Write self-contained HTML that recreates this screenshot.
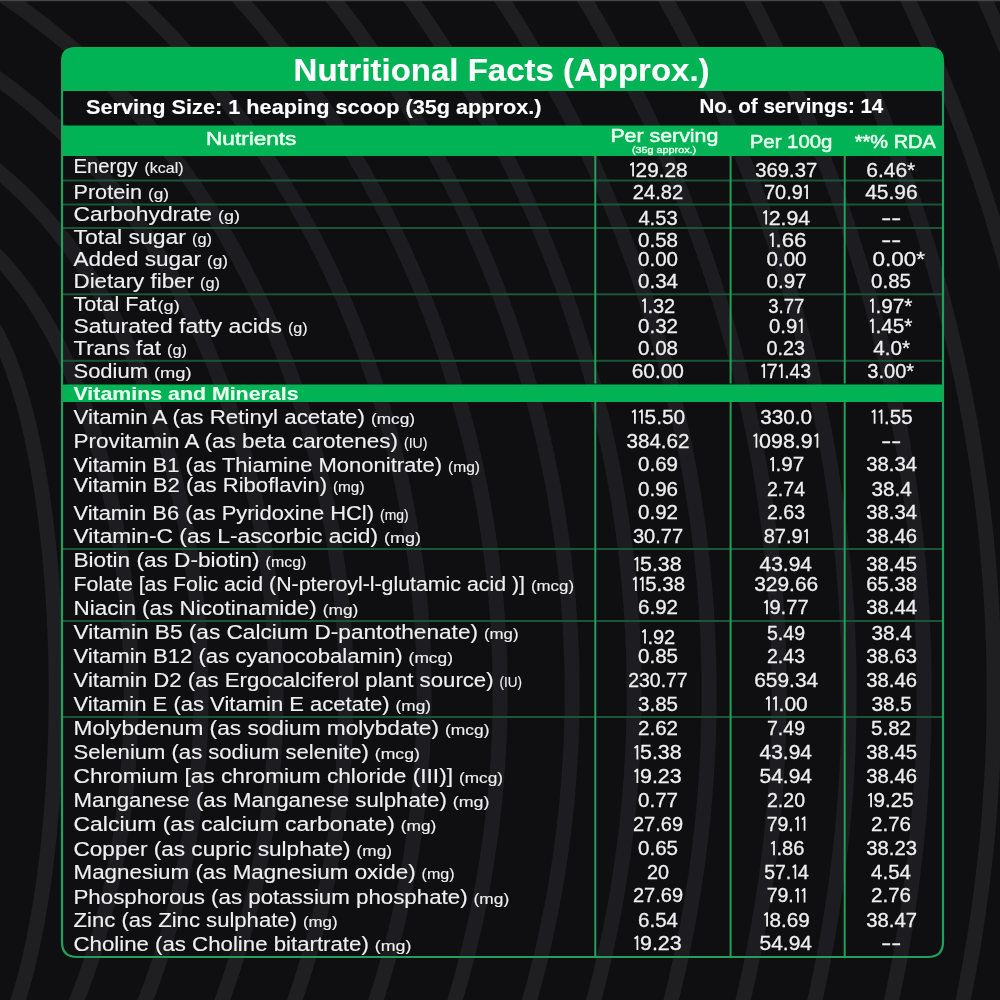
<!DOCTYPE html>
<html><head><meta charset="utf-8"><style>
html,body{margin:0;padding:0;background:#0f0f11;width:1000px;height:1000px;overflow:hidden}
svg{display:block;font-family:"Liberation Sans", sans-serif;will-change:transform}
</style></head><body>
<svg width="1000" height="1000" viewBox="0 0 1000 1000">
<defs>
<clipPath id="tbl"><path d="M61,61 Q61,47 75,47 L930,47 Q944,47 944,61 L944,942 Q944,958 928,958 L77,958 Q61,958 61,942 Z"/></clipPath>
</defs>
<rect width="1000" height="1000" fill="#0f0f11"/>
<g id="stripes" fill="none" stroke="#1f1f22" stroke-width="15">

<path d="M-68.5,296.0 L-61.9,304.0 L-57.6,312.0 L-54.2,320.0 L-51.3,328.0 L-48.8,336.0 L-46.6,344.0 L-44.5,352.0 L-42.6,360.0 L-40.9,368.0 L-39.3,376.0 L-37.8,384.0 L-36.4,392.0 L-35.0,400.0 L-33.8,408.0 L-32.6,416.0 L-31.5,424.0 L-30.4,432.0 L-29.4,440.0 L-28.4,448.0 L-27.5,456.0 L-26.7,464.0 L-25.9,472.0 L-25.1,480.0 L-24.3,488.0 L-23.7,496.0 L-23.0,504.0 L-22.4,512.0 L-21.8,520.0 L-21.2,528.0 L-20.7,536.0 L-20.2,544.0 L-19.7,552.0 L-19.3,560.0 L-18.9,568.0 L-18.5,576.0 L-18.1,584.0 L-17.8,592.0 L-17.5,600.0 L-17.2,608.0 L-17.0,616.0 L-16.8,624.0 L-16.6,632.0 L-16.4,640.0 L-16.3,648.0 L-16.1,656.0 L-16.0,664.0 L-16.0,672.0 L-15.9,680.0 L-15.9,688.0 L-15.9,696.0 L-15.9,704.0 L-15.9,712.0 L-16.0,720.0 L-16.1,728.0 L-16.2,736.0 L-16.4,744.0 L-16.5,752.0 L-16.7,760.0 L-16.9,768.0 L-17.2,776.0 L-17.4,784.0 L-17.7,792.0 L-18.1,800.0 L-18.4,808.0 L-18.8,816.0 L-19.2,824.0 L-19.6,832.0 L-20.1,840.0 L-20.6,848.0 L-21.1,856.0 L-21.6,864.0 L-22.2,872.0 L-22.8,880.0 L-23.5,888.0 L-24.2,896.0 L-24.9,904.0 L-25.7,912.0 L-26.5,920.0 L-27.3,928.0 L-28.2,936.0 L-29.2,944.0 L-30.1,952.0 L-31.2,960.0 L-32.3,968.0 L-33.5,976.0 L-34.7,984.0 L-36.0,992.0 L-37.4,1000.0 L-38.9,1008.0 L-40.5,1016.0 L-42.2,1024.0 L-44.0,1032.0 L-46.0,1040.0"/>
<path d="M-36.4,296.0 L-24.7,304.0 L-17.2,312.0 L-11.2,320.0 L-6.2,328.0 L-1.7,336.0 L2.2,344.0 L5.8,352.0 L9.1,360.0 L12.2,368.0 L15.0,376.0 L17.7,384.0 L20.1,392.0 L22.5,400.0 L24.7,408.0 L26.8,416.0 L28.7,424.0 L30.6,432.0 L32.4,440.0 L34.0,448.0 L35.6,456.0 L37.1,464.0 L38.6,472.0 L39.9,480.0 L41.2,488.0 L42.5,496.0 L43.6,504.0 L44.7,512.0 L45.8,520.0 L46.7,528.0 L47.7,536.0 L48.5,544.0 L49.4,552.0 L50.1,560.0 L50.9,568.0 L51.5,576.0 L52.1,584.0 L52.7,592.0 L53.2,600.0 L53.7,608.0 L54.2,616.0 L54.5,624.0 L54.9,632.0 L55.2,640.0 L55.5,648.0 L55.7,656.0 L55.9,664.0 L56.0,672.0 L56.1,680.0 L56.1,688.0 L56.1,696.0 L56.1,704.0 L56.0,712.0 L55.9,720.0 L55.7,728.0 L55.5,736.0 L55.3,744.0 L55.0,752.0 L54.6,760.0 L54.3,768.0 L53.8,776.0 L53.4,784.0 L52.9,792.0 L52.3,800.0 L51.7,808.0 L51.0,816.0 L50.3,824.0 L49.6,832.0 L48.8,840.0 L47.9,848.0 L47.0,856.0 L46.0,864.0 L45.0,872.0 L43.9,880.0 L42.8,888.0 L41.5,896.0 L40.3,904.0 L38.9,912.0 L37.5,920.0 L36.0,928.0 L34.4,936.0 L32.8,944.0 L31.0,952.0 L29.2,960.0 L27.3,968.0 L25.2,976.0 L23.0,984.0 L20.7,992.0 L18.3,1000.0 L15.7,1008.0 L12.9,1016.0 L9.9,1024.0 L6.7,1032.0 L3.1,1040.0"/>
<path d="M-113.6,200.0 L-73.4,208.0 L-55.2,216.0 L-41.4,224.0 L-29.9,232.0 L-19.9,240.0 L-11.0,248.0 L-2.9,256.0 L4.6,264.0 L11.5,272.0 L17.9,280.0 L23.9,288.0 L29.6,296.0 L34.9,304.0 L40.0,312.0 L44.8,320.0 L49.3,328.0 L53.7,336.0 L57.9,344.0 L61.8,352.0 L65.6,360.0 L69.2,368.0 L72.7,376.0 L76.0,384.0 L79.2,392.0 L82.3,400.0 L85.2,408.0 L88.0,416.0 L90.7,424.0 L93.3,432.0 L95.8,440.0 L98.1,448.0 L100.4,456.0 L102.6,464.0 L104.7,472.0 L106.6,480.0 L108.5,488.0 L110.3,496.0 L112.1,504.0 L113.7,512.0 L115.3,520.0 L116.7,528.0 L118.1,536.0 L119.5,544.0 L120.7,552.0 L121.9,560.0 L123.0,568.0 L124.0,576.0 L125.0,584.0 L125.8,592.0 L126.7,600.0 L127.4,608.0 L128.1,616.0 L128.7,624.0 L129.2,632.0 L129.7,640.0 L130.1,648.0 L130.4,656.0 L130.7,664.0 L130.9,672.0 L131.0,680.0 L131.1,688.0 L131.1,696.0 L131.1,704.0 L130.9,712.0 L130.8,720.0 L130.5,728.0 L130.2,736.0 L129.8,744.0 L129.3,752.0 L128.8,760.0 L128.2,768.0 L127.6,776.0 L126.8,784.0 L126.0,792.0 L125.2,800.0 L124.2,808.0 L123.2,816.0 L122.2,824.0 L121.0,832.0 L119.8,840.0 L118.5,848.0 L117.1,856.0 L115.6,864.0 L114.1,872.0 L112.5,880.0 L110.8,888.0 L109.0,896.0 L107.1,904.0 L105.2,912.0 L103.1,920.0 L101.0,928.0 L98.7,936.0 L96.4,944.0 L93.9,952.0 L91.4,960.0 L88.7,968.0 L85.9,976.0 L83.0,984.0 L80.0,992.0 L76.9,1000.0 L73.6,1008.0 L70.1,1016.0 L66.5,1024.0 L62.8,1032.0 L58.9,1040.0"/>
<path d="M-145.9,104.0 L-110.1,112.0 L-87.0,120.0 L-68.8,128.0 L-53.3,136.0 L-39.6,144.0 L-27.4,152.0 L-16.1,160.0 L-5.8,168.0 L3.9,176.0 L12.9,184.0 L21.4,192.0 L29.5,200.0 L37.1,208.0 L44.3,216.0 L51.2,224.0 L57.8,232.0 L64.1,240.0 L70.2,248.0 L76.0,256.0 L81.6,264.0 L86.9,272.0 L92.1,280.0 L97.1,288.0 L101.9,296.0 L106.5,304.0 L110.9,312.0 L115.2,320.0 L119.4,328.0 L123.3,336.0 L127.2,344.0 L130.9,352.0 L134.5,360.0 L138.0,368.0 L141.4,376.0 L144.6,384.0 L147.7,392.0 L150.7,400.0 L153.6,408.0 L156.4,416.0 L159.1,424.0 L161.7,432.0 L164.3,440.0 L166.7,448.0 L169.0,456.0 L171.2,464.0 L173.3,472.0 L175.4,480.0 L177.3,488.0 L179.2,496.0 L181.0,504.0 L182.7,512.0 L184.3,520.0 L185.9,528.0 L187.4,536.0 L188.8,544.0 L190.1,552.0 L191.3,560.0 L192.5,568.0 L193.5,576.0 L194.6,584.0 L195.5,592.0 L196.4,600.0 L197.1,608.0 L197.9,616.0 L198.5,624.0 L199.1,632.0 L199.6,640.0 L200.0,648.0 L200.4,656.0 L200.7,664.0 L200.9,672.0 L201.0,680.0 L201.1,688.0 L201.1,696.0 L201.1,704.0 L200.9,712.0 L200.7,720.0 L200.5,728.0 L200.1,736.0 L199.7,744.0 L199.2,752.0 L198.7,760.0 L198.0,768.0 L197.3,776.0 L196.6,784.0 L195.7,792.0 L194.8,800.0 L193.8,808.0 L192.7,816.0 L191.6,824.0 L190.4,832.0 L189.1,840.0 L187.7,848.0 L186.3,856.0 L184.7,864.0 L183.1,872.0 L181.4,880.0 L179.7,888.0 L177.8,896.0 L175.9,904.0 L173.9,912.0 L171.7,920.0 L169.5,928.0 L167.2,936.0 L164.9,944.0 L162.4,952.0 L159.8,960.0 L157.1,968.0 L154.4,976.0 L151.5,984.0 L148.5,992.0 L145.4,1000.0 L142.2,1008.0 L138.9,1016.0 L135.4,1024.0 L131.8,1032.0 L128.2,1040.0"/>
<path d="M-192.3,0.0 L-152.6,8.0 L-125.1,16.0 L-102.7,24.0 L-83.5,32.0 L-66.5,40.0 L-51.1,48.0 L-37.0,56.0 L-23.9,64.0 L-11.6,72.0 L-0.1,80.0 L10.7,88.0 L21.0,96.0 L30.8,104.0 L40.1,112.0 L49.0,120.0 L57.6,128.0 L65.8,136.0 L73.7,144.0 L81.3,152.0 L88.6,160.0 L95.6,168.0 L102.4,176.0 L109.0,184.0 L115.4,192.0 L121.5,200.0 L127.5,208.0 L133.3,216.0 L138.9,224.0 L144.3,232.0 L149.5,240.0 L154.6,248.0 L159.6,256.0 L164.4,264.0 L169.0,272.0 L173.6,280.0 L177.9,288.0 L182.2,296.0 L186.3,304.0 L190.3,312.0 L194.2,320.0 L198.0,328.0 L201.7,336.0 L205.2,344.0 L208.7,352.0 L212.0,360.0 L215.3,368.0 L218.4,376.0 L221.5,384.0 L224.4,392.0 L227.3,400.0 L230.0,408.0 L232.7,416.0 L235.3,424.0 L237.7,432.0 L240.1,440.0 L242.5,448.0 L244.7,456.0 L246.8,464.0 L248.9,472.0 L250.9,480.0 L252.8,488.0 L254.6,496.0 L256.4,504.0 L258.0,512.0 L259.6,520.0 L261.1,528.0 L262.6,536.0 L263.9,544.0 L265.2,552.0 L266.4,560.0 L267.6,568.0 L268.6,576.0 L269.6,584.0 L270.6,592.0 L271.4,600.0 L272.2,608.0 L272.9,616.0 L273.5,624.0 L274.1,632.0 L274.6,640.0 L275.0,648.0 L275.4,656.0 L275.7,664.0 L275.9,672.0 L276.0,680.0 L276.1,688.0 L276.1,696.0 L276.1,704.0 L275.9,712.0 L275.7,720.0 L275.5,728.0 L275.1,736.0 L274.7,744.0 L274.2,752.0 L273.7,760.0 L273.1,768.0 L272.4,776.0 L271.6,784.0 L270.8,792.0 L269.9,800.0 L268.9,808.0 L267.8,816.0 L266.7,824.0 L265.5,832.0 L264.3,840.0 L262.9,848.0 L261.5,856.0 L260.0,864.0 L258.4,872.0 L256.8,880.0 L255.1,888.0 L253.3,896.0 L251.4,904.0 L249.4,912.0 L247.4,920.0 L245.2,928.0 L243.0,936.0 L240.7,944.0 L238.4,952.0 L235.9,960.0 L233.3,968.0 L230.7,976.0 L228.0,984.0 L225.1,992.0 L222.2,1000.0 L219.2,1008.0 L216.1,1016.0 L212.8,1024.0 L209.5,1032.0 L206.1,1040.0"/>
<path d="M-58.0,-40.0 L-42.8,-32.0 L-28.6,-24.0 L-15.2,-16.0 L-2.5,-8.0 L9.6,0.0 L21.1,8.0 L32.1,16.0 L42.6,24.0 L52.8,32.0 L62.5,40.0 L71.9,48.0 L80.9,56.0 L89.6,64.0 L98.1,72.0 L106.2,80.0 L114.2,88.0 L121.8,96.0 L129.3,104.0 L136.5,112.0 L143.5,120.0 L150.3,128.0 L156.9,136.0 L163.3,144.0 L169.6,152.0 L175.7,160.0 L181.6,168.0 L187.4,176.0 L193.0,184.0 L198.4,192.0 L203.8,200.0 L208.9,208.0 L214.0,216.0 L218.9,224.0 L223.7,232.0 L228.4,240.0 L232.9,248.0 L237.3,256.0 L241.7,264.0 L245.9,272.0 L250.0,280.0 L254.0,288.0 L257.8,296.0 L261.6,304.0 L265.3,312.0 L268.9,320.0 L272.4,328.0 L275.8,336.0 L279.0,344.0 L282.3,352.0 L285.4,360.0 L288.4,368.0 L291.3,376.0 L294.2,384.0 L296.9,392.0 L299.6,400.0 L302.2,408.0 L304.7,416.0 L307.1,424.0 L309.5,432.0 L311.8,440.0 L314.0,448.0 L316.1,456.0 L318.1,464.0 L320.1,472.0 L322.0,480.0 L323.8,488.0 L325.5,496.0 L327.2,504.0 L328.8,512.0 L330.3,520.0 L331.7,528.0 L333.1,536.0 L334.4,544.0 L335.7,552.0 L336.8,560.0 L337.9,568.0 L338.9,576.0 L339.9,584.0 L340.8,592.0 L341.6,600.0 L342.3,608.0 L343.0,616.0 L343.6,624.0 L344.2,632.0 L344.7,640.0 L345.1,648.0 L345.4,656.0 L345.7,664.0 L345.9,672.0 L346.0,680.0 L346.1,688.0 L346.1,696.0 L346.1,704.0 L345.9,712.0 L345.7,720.0 L345.5,728.0 L345.2,736.0 L344.8,744.0 L344.3,752.0 L343.8,760.0 L343.2,768.0 L342.5,776.0 L341.8,784.0 L341.0,792.0 L340.1,800.0 L339.2,808.0 L338.2,816.0 L337.1,824.0 L335.9,832.0 L334.7,840.0 L333.4,848.0 L332.1,856.0 L330.7,864.0 L329.2,872.0 L327.6,880.0 L325.9,888.0 L324.2,896.0 L322.4,904.0 L320.6,912.0 L318.6,920.0 L316.6,928.0 L314.5,936.0 L312.3,944.0 L310.1,952.0 L307.7,960.0 L305.3,968.0 L302.8,976.0 L300.3,984.0 L297.6,992.0 L294.9,1000.0 L292.0,1008.0 L289.1,1016.0 L286.1,1024.0 L283.0,1032.0 L279.9,1040.0"/>
<path d="M89.2,-40.0 L98.9,-32.0 L108.3,-24.0 L117.5,-16.0 L126.3,-8.0 L135.0,0.0 L143.4,8.0 L151.6,16.0 L159.5,24.0 L167.3,32.0 L174.8,40.0 L182.2,48.0 L189.4,56.0 L196.4,64.0 L203.2,72.0 L209.9,80.0 L216.4,88.0 L222.8,96.0 L229.0,104.0 L235.0,112.0 L241.0,120.0 L246.8,128.0 L252.4,136.0 L258.0,144.0 L263.4,152.0 L268.6,160.0 L273.8,168.0 L278.8,176.0 L283.8,184.0 L288.6,192.0 L293.3,200.0 L297.9,208.0 L302.4,216.0 L306.8,224.0 L311.1,232.0 L315.3,240.0 L319.4,248.0 L323.4,256.0 L327.3,264.0 L331.1,272.0 L334.8,280.0 L338.4,288.0 L342.0,296.0 L345.4,304.0 L348.8,312.0 L352.1,320.0 L355.3,328.0 L358.4,336.0 L361.4,344.0 L364.4,352.0 L367.3,360.0 L370.0,368.0 L372.8,376.0 L375.4,384.0 L378.0,392.0 L380.5,400.0 L382.9,408.0 L385.2,416.0 L387.5,424.0 L389.7,432.0 L391.8,440.0 L393.9,448.0 L395.8,456.0 L397.7,464.0 L399.6,472.0 L401.4,480.0 L403.1,488.0 L404.7,496.0 L406.3,504.0 L407.7,512.0 L409.2,520.0 L410.5,528.0 L411.8,536.0 L413.1,544.0 L414.2,552.0 L415.3,560.0 L416.4,568.0 L417.3,576.0 L418.2,584.0 L419.1,592.0 L419.8,600.0 L420.5,608.0 L421.2,616.0 L421.8,624.0 L422.3,632.0 L422.7,640.0 L423.1,648.0 L423.5,656.0 L423.7,664.0 L423.9,672.0 L424.0,680.0 L424.1,688.0 L424.1,696.0 L424.1,704.0 L424.0,712.0 L423.8,720.0 L423.5,728.0 L423.2,736.0 L422.8,744.0 L422.4,752.0 L421.9,760.0 L421.3,768.0 L420.7,776.0 L420.0,784.0 L419.3,792.0 L418.4,800.0 L417.6,808.0 L416.6,816.0 L415.6,824.0 L414.5,832.0 L413.4,840.0 L412.1,848.0 L410.9,856.0 L409.5,864.0 L408.1,872.0 L406.6,880.0 L405.1,888.0 L403.5,896.0 L401.8,904.0 L400.0,912.0 L398.2,920.0 L396.3,928.0 L394.4,936.0 L392.3,944.0 L390.2,952.0 L388.0,960.0 L385.8,968.0 L383.5,976.0 L381.1,984.0 L378.6,992.0 L376.1,1000.0 L373.4,1008.0 L370.7,1016.0 L368.0,1024.0 L365.1,1032.0 L362.2,1040.0"/>
<path d="M203.3,-40.0 L211.1,-32.0 L218.8,-24.0 L226.3,-16.0 L233.6,-8.0 L240.8,0.0 L247.8,8.0 L254.7,16.0 L261.4,24.0 L268.0,32.0 L274.4,40.0 L280.8,48.0 L286.9,56.0 L293.0,64.0 L298.9,72.0 L304.7,80.0 L310.4,88.0 L316.0,96.0 L321.5,104.0 L326.8,112.0 L332.1,120.0 L337.2,128.0 L342.2,136.0 L347.2,144.0 L352.0,152.0 L356.7,160.0 L361.4,168.0 L365.9,176.0 L370.4,184.0 L374.7,192.0 L379.0,200.0 L383.1,208.0 L387.2,216.0 L391.2,224.0 L395.1,232.0 L399.0,240.0 L402.7,248.0 L406.4,256.0 L409.9,264.0 L413.4,272.0 L416.9,280.0 L420.2,288.0 L423.5,296.0 L426.6,304.0 L429.8,312.0 L432.8,320.0 L435.8,328.0 L438.6,336.0 L441.5,344.0 L444.2,352.0 L446.9,360.0 L449.5,368.0 L452.0,376.0 L454.5,384.0 L456.8,392.0 L459.2,400.0 L461.4,408.0 L463.6,416.0 L465.7,424.0 L467.8,432.0 L469.8,440.0 L471.7,448.0 L473.5,456.0 L475.3,464.0 L477.0,472.0 L478.7,480.0 L480.3,488.0 L481.8,496.0 L483.3,504.0 L484.7,512.0 L486.0,520.0 L487.3,528.0 L488.5,536.0 L489.7,544.0 L490.8,552.0 L491.8,560.0 L492.8,568.0 L493.7,576.0 L494.6,584.0 L495.4,592.0 L496.1,600.0 L496.7,608.0 L497.4,616.0 L497.9,624.0 L498.4,632.0 L498.8,640.0 L499.2,648.0 L499.5,656.0 L499.7,664.0 L499.9,672.0 L500.1,680.0 L500.1,688.0 L500.1,696.0 L500.1,704.0 L500.0,712.0 L499.8,720.0 L499.6,728.0 L499.3,736.0 L498.9,744.0 L498.5,752.0 L498.0,760.0 L497.5,768.0 L496.9,776.0 L496.3,784.0 L495.5,792.0 L494.8,800.0 L493.9,808.0 L493.0,816.0 L492.1,824.0 L491.1,832.0 L490.0,840.0 L488.8,848.0 L487.6,856.0 L486.4,864.0 L485.0,872.0 L483.7,880.0 L482.2,888.0 L480.7,896.0 L479.1,904.0 L477.5,912.0 L475.8,920.0 L474.0,928.0 L472.1,936.0 L470.2,944.0 L468.3,952.0 L466.2,960.0 L464.1,968.0 L462.0,976.0 L459.7,984.0 L457.4,992.0 L455.1,1000.0 L452.6,1008.0 L450.1,1016.0 L447.5,1024.0 L444.9,1032.0 L442.1,1040.0"/>
<path d="M301.5,-40.0 L308.4,-32.0 L315.0,-24.0 L321.6,-16.0 L328.0,-8.0 L334.3,0.0 L340.5,8.0 L346.6,16.0 L352.6,24.0 L358.4,32.0 L364.2,40.0 L369.8,48.0 L375.3,56.0 L380.8,64.0 L386.1,72.0 L391.3,80.0 L396.5,88.0 L401.5,96.0 L406.4,104.0 L411.3,112.0 L416.1,120.0 L420.7,128.0 L425.3,136.0 L429.8,144.0 L434.2,152.0 L438.6,160.0 L442.8,168.0 L447.0,176.0 L451.1,184.0 L455.1,192.0 L459.0,200.0 L462.8,208.0 L466.6,216.0 L470.3,224.0 L473.9,232.0 L477.4,240.0 L480.9,248.0 L484.3,256.0 L487.6,264.0 L490.9,272.0 L494.0,280.0 L497.1,288.0 L500.2,296.0 L503.1,304.0 L506.0,312.0 L508.9,320.0 L511.6,328.0 L514.3,336.0 L517.0,344.0 L519.5,352.0 L522.0,360.0 L524.5,368.0 L526.8,376.0 L529.1,384.0 L531.4,392.0 L533.5,400.0 L535.7,408.0 L537.7,416.0 L539.7,424.0 L541.6,432.0 L543.5,440.0 L545.3,448.0 L547.0,456.0 L548.7,464.0 L550.3,472.0 L551.9,480.0 L553.4,488.0 L554.9,496.0 L556.2,504.0 L557.6,512.0 L558.8,520.0 L560.0,528.0 L561.2,536.0 L562.3,544.0 L563.3,552.0 L564.3,560.0 L565.2,568.0 L566.1,576.0 L566.9,584.0 L567.6,592.0 L568.3,600.0 L568.9,608.0 L569.5,616.0 L570.0,624.0 L570.5,632.0 L570.9,640.0 L571.2,648.0 L571.5,656.0 L571.8,664.0 L571.9,672.0 L572.1,680.0 L572.1,688.0 L572.1,696.0 L572.1,704.0 L572.0,712.0 L571.8,720.0 L571.6,728.0 L571.3,736.0 L571.0,744.0 L570.6,752.0 L570.1,760.0 L569.6,768.0 L569.1,776.0 L568.5,784.0 L567.8,792.0 L567.1,800.0 L566.3,808.0 L565.4,816.0 L564.5,824.0 L563.6,832.0 L562.5,840.0 L561.5,848.0 L560.3,856.0 L559.1,864.0 L557.9,872.0 L556.6,880.0 L555.2,888.0 L553.8,896.0 L552.3,904.0 L550.7,912.0 L549.1,920.0 L547.5,928.0 L545.7,936.0 L544.0,944.0 L542.1,952.0 L540.2,960.0 L538.2,968.0 L536.2,976.0 L534.1,984.0 L531.9,992.0 L529.7,1000.0 L527.4,1008.0 L525.1,1016.0 L522.6,1024.0 L520.2,1032.0 L517.6,1040.0"/>
<path d="M381.8,-40.0 L388.0,-32.0 L394.1,-24.0 L400.0,-16.0 L405.9,-8.0 L411.7,0.0 L417.3,8.0 L422.9,16.0 L428.4,24.0 L433.7,32.0 L439.0,40.0 L444.2,48.0 L449.3,56.0 L454.3,64.0 L459.2,72.0 L464.1,80.0 L468.8,88.0 L473.5,96.0 L478.1,104.0 L482.6,112.0 L487.0,120.0 L491.4,128.0 L495.7,136.0 L499.9,144.0 L504.0,152.0 L508.0,160.0 L512.0,168.0 L515.9,176.0 L519.7,184.0 L523.5,192.0 L527.1,200.0 L530.7,208.0 L534.3,216.0 L537.7,224.0 L541.1,232.0 L544.5,240.0 L547.7,248.0 L550.9,256.0 L554.0,264.0 L557.1,272.0 L560.1,280.0 L563.0,288.0 L565.9,296.0 L568.7,304.0 L571.4,312.0 L574.1,320.0 L576.7,328.0 L579.2,336.0 L581.7,344.0 L584.2,352.0 L586.5,360.0 L588.8,368.0 L591.1,376.0 L593.3,384.0 L595.4,392.0 L597.4,400.0 L599.4,408.0 L601.4,416.0 L603.3,424.0 L605.1,432.0 L606.9,440.0 L608.6,448.0 L610.3,456.0 L611.9,464.0 L613.4,472.0 L614.9,480.0 L616.3,488.0 L617.7,496.0 L619.0,504.0 L620.3,512.0 L621.5,520.0 L622.6,528.0 L623.7,536.0 L624.7,544.0 L625.7,552.0 L626.7,560.0 L627.5,568.0 L628.4,576.0 L629.1,584.0 L629.8,592.0 L630.5,600.0 L631.1,608.0 L631.6,616.0 L632.1,624.0 L632.6,632.0 L632.9,640.0 L633.3,648.0 L633.6,656.0 L633.8,664.0 L633.9,672.0 L634.1,680.0 L634.1,688.0 L634.1,696.0 L634.1,704.0 L634.0,712.0 L633.8,720.0 L633.6,728.0 L633.4,736.0 L633.0,744.0 L632.7,752.0 L632.2,760.0 L631.8,768.0 L631.2,776.0 L630.6,784.0 L630.0,792.0 L629.3,800.0 L628.6,808.0 L627.7,816.0 L626.9,824.0 L626.0,832.0 L625.0,840.0 L624.0,848.0 L622.9,856.0 L621.8,864.0 L620.6,872.0 L619.3,880.0 L618.0,888.0 L616.7,896.0 L615.2,904.0 L613.8,912.0 L612.2,920.0 L610.7,928.0 L609.0,936.0 L607.3,944.0 L605.6,952.0 L603.7,960.0 L601.9,968.0 L599.9,976.0 L598.0,984.0 L595.9,992.0 L593.8,1000.0 L591.6,1008.0 L589.4,1016.0 L587.1,1024.0 L584.8,1032.0 L582.3,1040.0"/>
<path d="M475.3,-40.0 L480.9,-32.0 L486.4,-24.0 L491.8,-16.0 L497.2,-8.0 L502.4,0.0 L507.6,8.0 L512.6,16.0 L517.6,24.0 L522.6,32.0 L527.4,40.0 L532.2,48.0 L536.8,56.0 L541.4,64.0 L546.0,72.0 L550.4,80.0 L554.8,88.0 L559.1,96.0 L563.3,104.0 L567.5,112.0 L571.6,120.0 L575.6,128.0 L579.6,136.0 L583.4,144.0 L587.3,152.0 L591.0,160.0 L594.7,168.0 L598.3,176.0 L601.9,184.0 L605.3,192.0 L608.8,200.0 L612.1,208.0 L615.4,216.0 L618.6,224.0 L621.8,232.0 L624.9,240.0 L627.9,248.0 L630.9,256.0 L633.8,264.0 L636.7,272.0 L639.5,280.0 L642.2,288.0 L644.9,296.0 L647.6,304.0 L650.1,312.0 L652.6,320.0 L655.1,328.0 L657.5,336.0 L659.8,344.0 L662.1,352.0 L664.3,360.0 L666.4,368.0 L668.6,376.0 L670.6,384.0 L672.6,392.0 L674.5,400.0 L676.4,408.0 L678.3,416.0 L680.0,424.0 L681.8,432.0 L683.4,440.0 L685.0,448.0 L686.6,456.0 L688.1,464.0 L689.6,472.0 L691.0,480.0 L692.3,488.0 L693.6,496.0 L694.8,504.0 L696.0,512.0 L697.2,520.0 L698.3,528.0 L699.3,536.0 L700.3,544.0 L701.2,552.0 L702.1,560.0 L702.9,568.0 L703.7,576.0 L704.4,584.0 L705.1,592.0 L705.7,600.0 L706.3,608.0 L706.8,616.0 L707.2,624.0 L707.6,632.0 L708.0,640.0 L708.3,648.0 L708.6,656.0 L708.8,664.0 L709.0,672.0 L709.1,680.0 L709.1,688.0 L709.1,696.0 L709.1,704.0 L709.0,712.0 L708.8,720.0 L708.6,728.0 L708.4,736.0 L708.1,744.0 L707.7,752.0 L707.3,760.0 L706.9,768.0 L706.4,776.0 L705.8,784.0 L705.2,792.0 L704.6,800.0 L703.9,808.0 L703.1,816.0 L702.3,824.0 L701.4,832.0 L700.5,840.0 L699.5,848.0 L698.5,856.0 L697.4,864.0 L696.3,872.0 L695.1,880.0 L693.9,888.0 L692.6,896.0 L691.3,904.0 L689.9,912.0 L688.5,920.0 L687.0,928.0 L685.4,936.0 L683.8,944.0 L682.2,952.0 L680.5,960.0 L678.7,968.0 L676.9,976.0 L675.0,984.0 L673.1,992.0 L671.1,1000.0 L669.1,1008.0 L667.0,1016.0 L664.8,1024.0 L662.6,1032.0 L660.4,1040.0"/>
<path d="M560.0,-40.0 L565.2,-32.0 L570.3,-24.0 L575.3,-16.0 L580.2,-8.0 L585.0,0.0 L589.8,8.0 L594.5,16.0 L599.2,24.0 L603.7,32.0 L608.2,40.0 L612.6,48.0 L617.0,56.0 L621.3,64.0 L625.5,72.0 L629.7,80.0 L633.7,88.0 L637.8,96.0 L641.7,104.0 L645.6,112.0 L649.4,120.0 L653.2,128.0 L656.9,136.0 L660.5,144.0 L664.1,152.0 L667.6,160.0 L671.1,168.0 L674.5,176.0 L677.8,184.0 L681.1,192.0 L684.3,200.0 L687.4,208.0 L690.5,216.0 L693.6,224.0 L696.5,232.0 L699.5,240.0 L702.3,248.0 L705.1,256.0 L707.9,264.0 L710.6,272.0 L713.2,280.0 L715.8,288.0 L718.3,296.0 L720.8,304.0 L723.2,312.0 L725.6,320.0 L727.9,328.0 L730.2,336.0 L732.4,344.0 L734.5,352.0 L736.6,360.0 L738.7,368.0 L740.7,376.0 L742.6,384.0 L744.5,392.0 L746.3,400.0 L748.1,408.0 L749.8,416.0 L751.5,424.0 L753.2,432.0 L754.7,440.0 L756.3,448.0 L757.8,456.0 L759.2,464.0 L760.6,472.0 L761.9,480.0 L763.2,488.0 L764.4,496.0 L765.6,504.0 L766.7,512.0 L767.8,520.0 L768.8,528.0 L769.8,536.0 L770.7,544.0 L771.6,552.0 L772.4,560.0 L773.2,568.0 L773.9,576.0 L774.6,584.0 L775.3,592.0 L775.9,600.0 L776.4,608.0 L776.9,616.0 L777.3,624.0 L777.7,632.0 L778.1,640.0 L778.4,648.0 L778.6,656.0 L778.8,664.0 L779.0,672.0 L779.1,680.0 L779.1,688.0 L779.1,696.0 L779.1,704.0 L779.0,712.0 L778.9,720.0 L778.7,728.0 L778.4,736.0 L778.1,744.0 L777.8,752.0 L777.4,760.0 L777.0,768.0 L776.5,776.0 L776.0,784.0 L775.4,792.0 L774.8,800.0 L774.1,808.0 L773.4,816.0 L772.6,824.0 L771.8,832.0 L770.9,840.0 L770.0,848.0 L769.1,856.0 L768.0,864.0 L767.0,872.0 L765.9,880.0 L764.7,888.0 L763.5,896.0 L762.2,904.0 L760.9,912.0 L759.5,920.0 L758.1,928.0 L756.6,936.0 L755.1,944.0 L753.6,952.0 L751.9,960.0 L750.3,968.0 L748.6,976.0 L746.8,984.0 L745.0,992.0 L743.1,1000.0 L741.2,1008.0 L739.2,1016.0 L737.1,1024.0 L735.1,1032.0 L732.9,1040.0"/>
<path d="M642.8,-40.0 L647.6,-32.0 L652.3,-24.0 L657.0,-16.0 L661.6,-8.0 L666.1,0.0 L670.6,8.0 L675.0,16.0 L679.3,24.0 L683.6,32.0 L687.8,40.0 L691.9,48.0 L696.0,56.0 L700.0,64.0 L704.0,72.0 L707.9,80.0 L711.7,88.0 L715.5,96.0 L719.2,104.0 L722.8,112.0 L726.4,120.0 L730.0,128.0 L733.4,136.0 L736.9,144.0 L740.2,152.0 L743.5,160.0 L746.8,168.0 L750.0,176.0 L753.1,184.0 L756.2,192.0 L759.2,200.0 L762.2,208.0 L765.1,216.0 L768.0,224.0 L770.8,232.0 L773.6,240.0 L776.3,248.0 L778.9,256.0 L781.5,264.0 L784.1,272.0 L786.6,280.0 L789.0,288.0 L791.4,296.0 L793.8,304.0 L796.1,312.0 L798.3,320.0 L800.5,328.0 L802.6,336.0 L804.7,344.0 L806.8,352.0 L808.7,360.0 L810.7,368.0 L812.6,376.0 L814.4,384.0 L816.2,392.0 L818.0,400.0 L819.6,408.0 L821.3,416.0 L822.9,424.0 L824.4,432.0 L825.9,440.0 L827.4,448.0 L828.8,456.0 L830.2,464.0 L831.5,472.0 L832.7,480.0 L833.9,488.0 L835.1,496.0 L836.2,504.0 L837.3,512.0 L838.3,520.0 L839.3,528.0 L840.2,536.0 L841.1,544.0 L842.0,552.0 L842.8,560.0 L843.5,568.0 L844.2,576.0 L844.9,584.0 L845.5,592.0 L846.0,600.0 L846.5,608.0 L847.0,616.0 L847.4,624.0 L847.8,632.0 L848.1,640.0 L848.4,648.0 L848.6,656.0 L848.8,664.0 L849.0,672.0 L849.1,680.0 L849.1,688.0 L849.1,696.0 L849.1,704.0 L849.0,712.0 L848.9,720.0 L848.7,728.0 L848.5,736.0 L848.2,744.0 L847.9,752.0 L847.5,760.0 L847.1,768.0 L846.7,776.0 L846.1,784.0 L845.6,792.0 L845.0,800.0 L844.4,808.0 L843.7,816.0 L842.9,824.0 L842.2,832.0 L841.3,840.0 L840.5,848.0 L839.5,856.0 L838.6,864.0 L837.6,872.0 L836.5,880.0 L835.4,888.0 L834.2,896.0 L833.0,904.0 L831.8,912.0 L830.5,920.0 L829.1,928.0 L827.8,936.0 L826.3,944.0 L824.8,952.0 L823.3,960.0 L821.7,968.0 L820.1,976.0 L818.4,984.0 L816.7,992.0 L814.9,1000.0 L813.0,1008.0 L811.2,1016.0 L809.2,1024.0 L807.3,1032.0 L805.2,1040.0"/>
<path d="M729.9,-40.0 L734.3,-32.0 L738.7,-24.0 L743.1,-16.0 L747.4,-8.0 L751.6,0.0 L755.8,8.0 L759.9,16.0 L763.9,24.0 L767.9,32.0 L771.9,40.0 L775.7,48.0 L779.6,56.0 L783.3,64.0 L787.0,72.0 L790.7,80.0 L794.3,88.0 L797.8,96.0 L801.3,104.0 L804.7,112.0 L808.1,120.0 L811.4,128.0 L814.7,136.0 L817.9,144.0 L821.1,152.0 L824.2,160.0 L827.3,168.0 L830.3,176.0 L833.3,184.0 L836.2,192.0 L839.0,200.0 L841.8,208.0 L844.6,216.0 L847.3,224.0 L849.9,232.0 L852.5,240.0 L855.1,248.0 L857.6,256.0 L860.1,264.0 L862.5,272.0 L864.8,280.0 L867.2,288.0 L869.4,296.0 L871.6,304.0 L873.8,312.0 L875.9,320.0 L878.0,328.0 L880.0,336.0 L882.0,344.0 L883.9,352.0 L885.8,360.0 L887.7,368.0 L889.4,376.0 L891.2,384.0 L892.9,392.0 L894.5,400.0 L896.1,408.0 L897.7,416.0 L899.2,424.0 L900.7,432.0 L902.1,440.0 L903.5,448.0 L904.8,456.0 L906.1,464.0 L907.4,472.0 L908.6,480.0 L909.7,488.0 L910.8,496.0 L911.9,504.0 L912.9,512.0 L913.9,520.0 L914.8,528.0 L915.7,536.0 L916.5,544.0 L917.3,552.0 L918.1,560.0 L918.8,568.0 L919.4,576.0 L920.1,584.0 L920.6,592.0 L921.2,600.0 L921.7,608.0 L922.1,616.0 L922.5,624.0 L922.9,632.0 L923.2,640.0 L923.4,648.0 L923.7,656.0 L923.8,664.0 L924.0,672.0 L924.1,680.0 L924.1,688.0 L924.1,696.0 L924.1,704.0 L924.0,712.0 L923.9,720.0 L923.7,728.0 L923.5,736.0 L923.2,744.0 L922.9,752.0 L922.6,760.0 L922.2,768.0 L921.8,776.0 L921.3,784.0 L920.8,792.0 L920.2,800.0 L919.6,808.0 L919.0,816.0 L918.3,824.0 L917.5,832.0 L916.7,840.0 L915.9,848.0 L915.0,856.0 L914.1,864.0 L913.1,872.0 L912.1,880.0 L911.1,888.0 L910.0,896.0 L908.8,904.0 L907.7,912.0 L906.4,920.0 L905.2,928.0 L903.8,936.0 L902.5,944.0 L901.1,952.0 L899.6,960.0 L898.1,968.0 L896.5,976.0 L894.9,984.0 L893.3,992.0 L891.6,1000.0 L889.9,1008.0 L888.1,1016.0 L886.3,1024.0 L884.4,1032.0 L882.5,1040.0"/>
<path d="M809.8,-40.0 L814.0,-32.0 L818.2,-24.0 L822.3,-16.0 L826.3,-8.0 L830.3,0.0 L834.2,8.0 L838.1,16.0 L841.9,24.0 L845.7,32.0 L849.4,40.0 L853.1,48.0 L856.7,56.0 L860.3,64.0 L863.8,72.0 L867.2,80.0 L870.6,88.0 L874.0,96.0 L877.3,104.0 L880.5,112.0 L883.7,120.0 L886.9,128.0 L890.0,136.0 L893.0,144.0 L896.1,152.0 L899.0,160.0 L901.9,168.0 L904.8,176.0 L907.6,184.0 L910.3,192.0 L913.1,200.0 L915.7,208.0 L918.3,216.0 L920.9,224.0 L923.4,232.0 L925.9,240.0 L928.3,248.0 L930.7,256.0 L933.1,264.0 L935.4,272.0 L937.6,280.0 L939.8,288.0 L942.0,296.0 L944.1,304.0 L946.1,312.0 L948.2,320.0 L950.1,328.0 L952.1,336.0 L953.9,344.0 L955.8,352.0 L957.6,360.0 L959.3,368.0 L961.0,376.0 L962.7,384.0 L964.3,392.0 L965.9,400.0 L967.4,408.0 L968.9,416.0 L970.4,424.0 L971.8,432.0 L973.1,440.0 L974.4,448.0 L975.7,456.0 L976.9,464.0 L978.1,472.0 L979.3,480.0 L980.4,488.0 L981.4,496.0 L982.4,504.0 L983.4,512.0 L984.3,520.0 L985.2,528.0 L986.1,536.0 L986.9,544.0 L987.6,552.0 L988.3,560.0 L989.0,568.0 L989.7,576.0 L990.2,584.0 L990.8,592.0 L991.3,600.0 L991.8,608.0 L992.2,616.0 L992.6,624.0 L992.9,632.0 L993.2,640.0 L993.5,648.0 L993.7,656.0 L993.9,664.0 L994.0,672.0 L994.1,680.0 L994.1,688.0 L994.1,696.0 L994.1,704.0 L994.0,712.0 L993.9,720.0 L993.7,728.0 L993.5,736.0 L993.3,744.0 L993.0,752.0 L992.7,760.0 L992.3,768.0 L991.9,776.0 L991.4,784.0 L990.9,792.0 L990.4,800.0 L989.8,808.0 L989.2,816.0 L988.5,824.0 L987.8,832.0 L987.1,840.0 L986.3,848.0 L985.4,856.0 L984.6,864.0 L983.6,872.0 L982.7,880.0 L981.7,888.0 L980.6,896.0 L979.5,904.0 L978.4,912.0 L977.2,920.0 L976.0,928.0 L974.8,936.0 L973.4,944.0 L972.1,952.0 L970.7,960.0 L969.3,968.0 L967.8,976.0 L966.3,984.0 L964.7,992.0 L963.1,1000.0 L961.5,1008.0 L959.8,1016.0 L958.0,1024.0 L956.2,1032.0 L954.4,1040.0"/>
<path d="M888.8,-40.0 L892.7,-32.0 L896.7,-24.0 L900.5,-16.0 L904.4,-8.0 L908.1,0.0 L911.9,8.0 L915.5,16.0 L919.2,24.0 L922.7,32.0 L926.3,40.0 L929.7,48.0 L933.2,56.0 L936.5,64.0 L939.9,72.0 L943.2,80.0 L946.4,88.0 L949.6,96.0 L952.7,104.0 L955.8,112.0 L958.8,120.0 L961.8,128.0 L964.8,136.0 L967.7,144.0 L970.6,152.0 L973.4,160.0 L976.1,168.0 L978.8,176.0 L981.5,184.0 L984.2,192.0 L986.7,200.0 L989.3,208.0 L991.8,216.0 L994.2,224.0 L996.6,232.0 L999.0,240.0 L1001.3,248.0 L1003.6,256.0 L1005.8,264.0 L1008.0,272.0 L1010.1,280.0 L1012.2,288.0 L1014.3,296.0 L1016.3,304.0 L1018.3,312.0 L1020.2,320.0 L1022.1,328.0 L1023.9,336.0 L1025.7,344.0 L1027.5,352.0 L1029.2,360.0 L1030.9,368.0 L1032.5,376.0 L1034.1,384.0 L1035.6,392.0 L1037.1,400.0 L1038.6,408.0 L1040.0,416.0 L1041.4,424.0 L1042.7,432.0 L1044.0,440.0 L1045.3,448.0 L1046.5,456.0 L1047.7,464.0 L1048.8,472.0 L1049.9,480.0 L1051.0,488.0 L1052.0,496.0 L1052.9,504.0 L1053.9,512.0 L1054.8,520.0 L1055.6,528.0 L1056.4,536.0 L1057.2,544.0 L1057.9,552.0 L1058.6,560.0 L1059.2,568.0 L1059.8,576.0 L1060.4,584.0 L1060.9,592.0 L1061.4,600.0 L1061.9,608.0 L1062.3,616.0 L1062.6,624.0 L1063.0,632.0 L1063.3,640.0 L1063.5,648.0 L1063.7,656.0 L1063.9,664.0 L1064.0,672.0 L1064.1,680.0 L1064.1,688.0 L1064.1,696.0 L1064.1,704.0 L1064.0,712.0 L1063.9,720.0 L1063.7,728.0 L1063.6,736.0 L1063.3,744.0 L1063.0,752.0 L1062.7,760.0 L1062.4,768.0 L1062.0,776.0 L1061.5,784.0 L1061.1,792.0 L1060.6,800.0 L1060.0,808.0 L1059.4,816.0 L1058.8,824.0 L1058.1,832.0 L1057.4,840.0 L1056.6,848.0 L1055.8,856.0 L1055.0,864.0 L1054.1,872.0 L1053.2,880.0 L1052.2,888.0 L1051.2,896.0 L1050.2,904.0 L1049.1,912.0 L1048.0,920.0 L1046.8,928.0 L1045.6,936.0 L1044.4,944.0 L1043.1,952.0 L1041.7,960.0 L1040.4,968.0 L1039.0,976.0 L1037.5,984.0 L1036.0,992.0 L1034.5,1000.0 L1032.9,1008.0 L1031.3,1016.0 L1029.6,1024.0 L1027.9,1032.0 L1026.2,1040.0"/>
<path d="M966.8,-40.0 L970.6,-32.0 L974.3,-24.0 L978.0,-16.0 L981.7,-8.0 L985.2,0.0 L988.8,8.0 L992.3,16.0 L995.7,24.0 L999.1,32.0 L1002.5,40.0 L1005.8,48.0 L1009.0,56.0 L1012.3,64.0 L1015.4,72.0 L1018.6,80.0 L1021.6,88.0 L1024.7,96.0 L1027.7,104.0 L1030.6,112.0 L1033.5,120.0 L1036.4,128.0 L1039.2,136.0 L1041.9,144.0 L1044.7,152.0 L1047.3,160.0 L1050.0,168.0 L1052.6,176.0 L1055.1,184.0 L1057.6,192.0 L1060.1,200.0 L1062.5,208.0 L1064.9,216.0 L1067.2,224.0 L1069.5,232.0 L1071.8,240.0 L1074.0,248.0 L1076.2,256.0 L1078.3,264.0 L1080.4,272.0 L1082.4,280.0 L1084.5,288.0 L1086.4,296.0 L1088.3,304.0 L1090.2,312.0 L1092.1,320.0 L1093.9,328.0 L1095.6,336.0 L1097.4,344.0 L1099.0,352.0 L1100.7,360.0 L1102.3,368.0 L1103.8,376.0 L1105.4,384.0 L1106.8,392.0 L1108.3,400.0 L1109.7,408.0 L1111.0,416.0 L1112.4,424.0 L1113.6,432.0 L1114.9,440.0 L1116.1,448.0 L1117.2,456.0 L1118.4,464.0 L1119.5,472.0 L1120.5,480.0 L1121.5,488.0 L1122.5,496.0 L1123.4,504.0 L1124.3,512.0 L1125.2,520.0 L1126.0,528.0 L1126.7,536.0 L1127.5,544.0 L1128.2,552.0 L1128.8,560.0 L1129.4,568.0 L1130.0,576.0 L1130.6,584.0 L1131.1,592.0 L1131.5,600.0 L1132.0,608.0 L1132.4,616.0 L1132.7,624.0 L1133.0,632.0 L1133.3,640.0 L1133.5,648.0 L1133.7,656.0 L1133.9,664.0 L1134.0,672.0 L1134.1,680.0 L1134.1,688.0 L1134.1,696.0 L1134.1,704.0 L1134.0,712.0 L1133.9,720.0 L1133.8,728.0 L1133.6,736.0 L1133.4,744.0 L1133.1,752.0 L1132.8,760.0 L1132.4,768.0 L1132.1,776.0 L1131.6,784.0 L1131.2,792.0 L1130.7,800.0 L1130.2,808.0 L1129.6,816.0 L1129.0,824.0 L1128.3,832.0 L1127.7,840.0 L1126.9,848.0 L1126.2,856.0 L1125.4,864.0 L1124.5,872.0 L1123.6,880.0 L1122.7,888.0 L1121.8,896.0 L1120.8,904.0 L1119.7,912.0 L1118.6,920.0 L1117.5,928.0 L1116.4,936.0 L1115.2,944.0 L1114.0,952.0 L1112.7,960.0 L1111.4,968.0 L1110.0,976.0 L1108.6,984.0 L1107.2,992.0 L1105.7,1000.0 L1104.2,1008.0 L1102.7,1016.0 L1101.1,1024.0 L1099.4,1032.0 L1097.8,1040.0"/>
</g>
<g clip-path="url(#tbl)">
<rect x="61" y="47" width="883" height="911" fill="#0f0e12" fill-opacity="0.1"/>
<rect x="61" y="47" width="883" height="44" fill="#01b354"/>
<rect x="61" y="125.5" width="883" height="30.5" fill="#01b354"/>
<rect x="61" y="384.5" width="883" height="17.5" fill="#01b354"/>
</g>
<rect x="62" y="179.5" width="881" height="2" fill="#1b5538"/>
<rect x="62" y="203.5" width="881" height="2" fill="#1b5538"/>
<rect x="62" y="227.0" width="881" height="2" fill="#1b5538"/>
<rect x="62" y="293.3" width="881" height="2" fill="#1b5538"/>
<rect x="62" y="359.8" width="881" height="2" fill="#1b5538"/>
<rect x="62" y="548.0" width="881" height="2" fill="#1b5538"/>
<rect x="62" y="620.0" width="881" height="2" fill="#1b5538"/>
<rect x="62" y="716.0" width="881" height="2" fill="#1b5538"/>
<rect x="594.3" y="156" width="2" height="227.5" fill="#22a058"/>
<rect x="594.3" y="401.5" width="2" height="555.5" fill="#22a058"/>
<rect x="729.6" y="156" width="2" height="227.5" fill="#22a058"/>
<rect x="729.6" y="401.5" width="2" height="555.5" fill="#22a058"/>
<rect x="843.7" y="156" width="2" height="227.5" fill="#22a058"/>
<rect x="843.7" y="401.5" width="2" height="555.5" fill="#22a058"/>
<path d="M62,61 L62,942 Q62,957 77,957 L928,957 Q943,957 943,942 L943,61" fill="none" stroke="#22a058" stroke-width="2.2"/>
<text x="293.6" y="80.8" font-size="31.5" font-weight="bold" text-anchor="start" fill="#ffffff" stroke="#ffffff" stroke-width="0.15" textLength="416.0" lengthAdjust="spacingAndGlyphs">Nutritional Facts (Approx.)</text>
<text x="86.0" y="113.5" font-size="20.5" font-weight="bold" text-anchor="start" fill="#ffffff" stroke="#ffffff" stroke-width="0.15" textLength="455.6" lengthAdjust="spacingAndGlyphs">Serving Size: 1 heaping scoop (35g approx.)</text>
<text x="699.5" y="113.2" font-size="20.5" font-weight="bold" text-anchor="start" fill="#ffffff" stroke="#ffffff" stroke-width="0.15" textLength="183.8" lengthAdjust="spacingAndGlyphs">No. of servings: 14</text>
<text x="206.0" y="145.2" font-size="18.5" font-weight="normal" text-anchor="start" fill="#eafff0" stroke="#eafff0" stroke-width="0.55" textLength="90.4" lengthAdjust="spacingAndGlyphs">Nutrients</text>
<text x="610.4" y="141.5" font-size="18.5" font-weight="normal" text-anchor="start" fill="#eafff0" stroke="#eafff0" stroke-width="0.55" textLength="107.9" lengthAdjust="spacingAndGlyphs">Per serving</text>
<text x="631.9" y="152.6" font-size="8.5" font-weight="normal" text-anchor="start" fill="#eafff0" stroke="#eafff0" stroke-width="0.35" textLength="64.3" lengthAdjust="spacingAndGlyphs">(35g approx.)</text>
<text x="749.8" y="147.7" font-size="18.5" font-weight="normal" text-anchor="start" fill="#eafff0" stroke="#eafff0" stroke-width="0.55" textLength="82.5" lengthAdjust="spacingAndGlyphs">Per 100g</text>
<text x="854.8" y="147.7" font-size="18.5" font-weight="normal" text-anchor="start" fill="#eafff0" stroke="#eafff0" stroke-width="0.55" textLength="81.0" lengthAdjust="spacingAndGlyphs">**% RDA</text>
<text x="73.5" y="399.5" font-size="18.5" font-weight="bold" text-anchor="start" fill="#eafff0" stroke="#eafff0" stroke-width="0.15" textLength="225.0" lengthAdjust="spacingAndGlyphs">Vitamins and Minerals</text>
<text x="73.5" y="172.6" font-size="19.5" font-weight="normal" text-anchor="start" fill="#efefef" stroke="#efefef" stroke-width="0.15" textLength="64.0" lengthAdjust="spacingAndGlyphs">Energy</text>
<text x="144.5" y="172.6" font-size="14.5" font-weight="normal" text-anchor="start" fill="#efefef" stroke="#efefef" stroke-width="0.15" textLength="39.0" lengthAdjust="spacingAndGlyphs">(kcal)</text>
<text x="73.5" y="199.0" font-size="19.5" font-weight="normal" text-anchor="start" fill="#efefef" stroke="#efefef" stroke-width="0.15" textLength="68.5" lengthAdjust="spacingAndGlyphs">Protein</text>
<text x="148.0" y="199.0" font-size="14.5" font-weight="normal" text-anchor="start" fill="#efefef" stroke="#efefef" stroke-width="0.15" textLength="21.0" lengthAdjust="spacingAndGlyphs">(g)</text>
<text x="73.5" y="221.1" font-size="19.5" font-weight="normal" text-anchor="start" fill="#efefef" stroke="#efefef" stroke-width="0.15" textLength="138.5" lengthAdjust="spacingAndGlyphs">Carbohydrate</text>
<text x="218.0" y="221.1" font-size="14.5" font-weight="normal" text-anchor="start" fill="#efefef" stroke="#efefef" stroke-width="0.15" textLength="22.0" lengthAdjust="spacingAndGlyphs">(g)</text>
<text x="73.5" y="243.6" font-size="19.5" font-weight="normal" text-anchor="start" fill="#efefef" stroke="#efefef" stroke-width="0.15" textLength="112.5" lengthAdjust="spacingAndGlyphs">Total sugar</text>
<text x="192.0" y="243.6" font-size="14.5" font-weight="normal" text-anchor="start" fill="#efefef" stroke="#efefef" stroke-width="0.15" textLength="20.0" lengthAdjust="spacingAndGlyphs">(g)</text>
<text x="73.5" y="266.2" font-size="19.5" font-weight="normal" text-anchor="start" fill="#efefef" stroke="#efefef" stroke-width="0.15" textLength="127.5" lengthAdjust="spacingAndGlyphs">Added sugar</text>
<text x="207.0" y="266.2" font-size="14.5" font-weight="normal" text-anchor="start" fill="#efefef" stroke="#efefef" stroke-width="0.15" textLength="21.0" lengthAdjust="spacingAndGlyphs">(g)</text>
<text x="73.5" y="288.3" font-size="19.5" font-weight="normal" text-anchor="start" fill="#efefef" stroke="#efefef" stroke-width="0.15" textLength="120.5" lengthAdjust="spacingAndGlyphs">Dietary fiber</text>
<text x="200.0" y="288.3" font-size="14.5" font-weight="normal" text-anchor="start" fill="#efefef" stroke="#efefef" stroke-width="0.15" textLength="20.0" lengthAdjust="spacingAndGlyphs">(g)</text>
<text x="73.5" y="310.6" font-size="19.5" font-weight="normal" text-anchor="start" fill="#efefef" stroke="#efefef" stroke-width="0.15" textLength="83.0" lengthAdjust="spacingAndGlyphs">Total Fat</text>
<text x="157.5" y="310.6" font-size="14.5" font-weight="normal" text-anchor="start" fill="#efefef" stroke="#efefef" stroke-width="0.15" textLength="22.2" lengthAdjust="spacingAndGlyphs">(g)</text>
<text x="73.5" y="332.6" font-size="19.5" font-weight="normal" text-anchor="start" fill="#efefef" stroke="#efefef" stroke-width="0.15" textLength="208.5" lengthAdjust="spacingAndGlyphs">Saturated fatty acids</text>
<text x="288.0" y="332.6" font-size="14.5" font-weight="normal" text-anchor="start" fill="#efefef" stroke="#efefef" stroke-width="0.15" textLength="19.7" lengthAdjust="spacingAndGlyphs">(g)</text>
<text x="73.5" y="355.0" font-size="19.5" font-weight="normal" text-anchor="start" fill="#efefef" stroke="#efefef" stroke-width="0.15" textLength="87.5" lengthAdjust="spacingAndGlyphs">Trans fat</text>
<text x="167.0" y="355.0" font-size="14.5" font-weight="normal" text-anchor="start" fill="#efefef" stroke="#efefef" stroke-width="0.15" textLength="20.0" lengthAdjust="spacingAndGlyphs">(g)</text>
<text x="73.5" y="378.0" font-size="19.5" font-weight="normal" text-anchor="start" fill="#efefef" stroke="#efefef" stroke-width="0.15" textLength="74.5" lengthAdjust="spacingAndGlyphs">Sodium</text>
<text x="154.0" y="378.0" font-size="14.5" font-weight="normal" text-anchor="start" fill="#efefef" stroke="#efefef" stroke-width="0.15" textLength="37.6" lengthAdjust="spacingAndGlyphs">(mg)</text>
<text x="73.5" y="424.0" font-size="19.5" font-weight="normal" text-anchor="start" fill="#efefef" stroke="#efefef" stroke-width="0.15" textLength="291.5" lengthAdjust="spacingAndGlyphs">Vitamin A (as Retinyl acetate)</text>
<text x="371.0" y="424.0" font-size="14.5" font-weight="normal" text-anchor="start" fill="#efefef" stroke="#efefef" stroke-width="0.15" textLength="44.0" lengthAdjust="spacingAndGlyphs">(mcg)</text>
<text x="73.5" y="448.0" font-size="19.5" font-weight="normal" text-anchor="start" fill="#efefef" stroke="#efefef" stroke-width="0.15" textLength="324.5" lengthAdjust="spacingAndGlyphs">Provitamin A (as beta carotenes)</text>
<text x="404.0" y="448.0" font-size="14.5" font-weight="normal" text-anchor="start" fill="#efefef" stroke="#efefef" stroke-width="0.15" textLength="23.5" lengthAdjust="spacingAndGlyphs">(IU)</text>
<text x="73.5" y="471.7" font-size="19.5" font-weight="normal" text-anchor="start" fill="#efefef" stroke="#efefef" stroke-width="0.15" textLength="368.5" lengthAdjust="spacingAndGlyphs">Vitamin B1 (as Thiamine Mononitrate)</text>
<text x="448.0" y="471.7" font-size="14.5" font-weight="normal" text-anchor="start" fill="#efefef" stroke="#efefef" stroke-width="0.15" textLength="32.0" lengthAdjust="spacingAndGlyphs">(mg)</text>
<text x="73.5" y="492.2" font-size="19.5" font-weight="normal" text-anchor="start" fill="#efefef" stroke="#efefef" stroke-width="0.15" textLength="253.5" lengthAdjust="spacingAndGlyphs">Vitamin B2 (as Riboflavin)</text>
<text x="333.0" y="492.2" font-size="14.5" font-weight="normal" text-anchor="start" fill="#efefef" stroke="#efefef" stroke-width="0.15" textLength="31.5" lengthAdjust="spacingAndGlyphs">(mg)</text>
<text x="73.5" y="520.0" font-size="19.5" font-weight="normal" text-anchor="start" fill="#efefef" stroke="#efefef" stroke-width="0.15" textLength="300.5" lengthAdjust="spacingAndGlyphs">Vitamin B6 (as Pyridoxine HCl)</text>
<text x="380.0" y="520.0" font-size="14.5" font-weight="normal" text-anchor="start" fill="#efefef" stroke="#efefef" stroke-width="0.15" textLength="28.6" lengthAdjust="spacingAndGlyphs">(mg)</text>
<text x="73.5" y="543.2" font-size="19.5" font-weight="normal" text-anchor="start" fill="#efefef" stroke="#efefef" stroke-width="0.15" textLength="304.5" lengthAdjust="spacingAndGlyphs">Vitamin-C (as L-ascorbic acid)</text>
<text x="384.0" y="543.2" font-size="14.5" font-weight="normal" text-anchor="start" fill="#efefef" stroke="#efefef" stroke-width="0.15" textLength="37.0" lengthAdjust="spacingAndGlyphs">(mg)</text>
<text x="73.5" y="567.3" font-size="19.5" font-weight="normal" text-anchor="start" fill="#efefef" stroke="#efefef" stroke-width="0.15" textLength="186.1" lengthAdjust="spacingAndGlyphs">Biotin (as D-biotin)</text>
<text x="265.6" y="567.3" font-size="14.5" font-weight="normal" text-anchor="start" fill="#efefef" stroke="#efefef" stroke-width="0.15" textLength="40.8" lengthAdjust="spacingAndGlyphs">(mcg)</text>
<text x="73.5" y="591.0" font-size="19.5" font-weight="normal" text-anchor="start" fill="#efefef" stroke="#efefef" stroke-width="0.15" textLength="451.5" lengthAdjust="spacingAndGlyphs">Folate [as Folic acid (N-pteroyl-l-glutamic acid )]</text>
<text x="531.0" y="591.0" font-size="14.5" font-weight="normal" text-anchor="start" fill="#efefef" stroke="#efefef" stroke-width="0.15" textLength="43.0" lengthAdjust="spacingAndGlyphs">(mcg)</text>
<text x="73.5" y="615.1" font-size="19.5" font-weight="normal" text-anchor="start" fill="#efefef" stroke="#efefef" stroke-width="0.15" textLength="243.3" lengthAdjust="spacingAndGlyphs">Niacin (as Nicotinamide)</text>
<text x="322.8" y="615.1" font-size="14.5" font-weight="normal" text-anchor="start" fill="#efefef" stroke="#efefef" stroke-width="0.15" textLength="35.6" lengthAdjust="spacingAndGlyphs">(mg)</text>
<text x="73.5" y="639.2" font-size="19.5" font-weight="normal" text-anchor="start" fill="#efefef" stroke="#efefef" stroke-width="0.15" textLength="404.5" lengthAdjust="spacingAndGlyphs">Vitamin B5 (as Calcium D-pantothenate)</text>
<text x="484.0" y="639.2" font-size="14.5" font-weight="normal" text-anchor="start" fill="#efefef" stroke="#efefef" stroke-width="0.15" textLength="34.6" lengthAdjust="spacingAndGlyphs">(mg)</text>
<text x="73.5" y="663.0" font-size="19.5" font-weight="normal" text-anchor="start" fill="#efefef" stroke="#efefef" stroke-width="0.15" textLength="329.1" lengthAdjust="spacingAndGlyphs">Vitamin B12 (as cyanocobalamin)</text>
<text x="408.6" y="663.0" font-size="14.5" font-weight="normal" text-anchor="start" fill="#efefef" stroke="#efefef" stroke-width="0.15" textLength="44.4" lengthAdjust="spacingAndGlyphs">(mcg)</text>
<text x="73.5" y="686.6" font-size="19.5" font-weight="normal" text-anchor="start" fill="#efefef" stroke="#efefef" stroke-width="0.15" textLength="420.1" lengthAdjust="spacingAndGlyphs">Vitamin D2 (as Ergocalciferol plant source)</text>
<text x="499.6" y="686.6" font-size="14.5" font-weight="normal" text-anchor="start" fill="#efefef" stroke="#efefef" stroke-width="0.15" textLength="22.4" lengthAdjust="spacingAndGlyphs">(IU)</text>
<text x="73.5" y="710.6" font-size="19.5" font-weight="normal" text-anchor="start" fill="#efefef" stroke="#efefef" stroke-width="0.15" textLength="316.1" lengthAdjust="spacingAndGlyphs">Vitamin E (as Vitamin E acetate)</text>
<text x="395.6" y="710.6" font-size="14.5" font-weight="normal" text-anchor="start" fill="#efefef" stroke="#efefef" stroke-width="0.15" textLength="35.4" lengthAdjust="spacingAndGlyphs">(mg)</text>
<text x="73.5" y="735.2" font-size="19.5" font-weight="normal" text-anchor="start" fill="#efefef" stroke="#efefef" stroke-width="0.15" textLength="365.5" lengthAdjust="spacingAndGlyphs">Molybdenum (as sodium molybdate)</text>
<text x="445.0" y="735.2" font-size="14.5" font-weight="normal" text-anchor="start" fill="#efefef" stroke="#efefef" stroke-width="0.15" textLength="44.5" lengthAdjust="spacingAndGlyphs">(mcg)</text>
<text x="73.5" y="759.4" font-size="19.5" font-weight="normal" text-anchor="start" fill="#efefef" stroke="#efefef" stroke-width="0.15" textLength="295.3" lengthAdjust="spacingAndGlyphs">Selenium (as sodium selenite)</text>
<text x="374.8" y="759.4" font-size="14.5" font-weight="normal" text-anchor="start" fill="#efefef" stroke="#efefef" stroke-width="0.15" textLength="45.0" lengthAdjust="spacingAndGlyphs">(mcg)</text>
<text x="73.5" y="783.0" font-size="19.5" font-weight="normal" text-anchor="start" fill="#efefef" stroke="#efefef" stroke-width="0.15" textLength="379.5" lengthAdjust="spacingAndGlyphs">Chromium [as chromium chloride (III)]</text>
<text x="459.0" y="783.0" font-size="14.5" font-weight="normal" text-anchor="start" fill="#efefef" stroke="#efefef" stroke-width="0.15" textLength="44.0" lengthAdjust="spacingAndGlyphs">(mcg)</text>
<text x="73.5" y="807.2" font-size="19.5" font-weight="normal" text-anchor="start" fill="#efefef" stroke="#efefef" stroke-width="0.15" textLength="373.3" lengthAdjust="spacingAndGlyphs">Manganese (as Manganese sulphate)</text>
<text x="452.8" y="807.2" font-size="14.5" font-weight="normal" text-anchor="start" fill="#efefef" stroke="#efefef" stroke-width="0.15" textLength="36.7" lengthAdjust="spacingAndGlyphs">(mg)</text>
<text x="73.5" y="830.8" font-size="19.5" font-weight="normal" text-anchor="start" fill="#efefef" stroke="#efefef" stroke-width="0.15" textLength="321.3" lengthAdjust="spacingAndGlyphs">Calcium (as calcium carbonate)</text>
<text x="400.8" y="830.8" font-size="14.5" font-weight="normal" text-anchor="start" fill="#efefef" stroke="#efefef" stroke-width="0.15" textLength="35.6" lengthAdjust="spacingAndGlyphs">(mg)</text>
<text x="73.5" y="855.9" font-size="19.5" font-weight="normal" text-anchor="start" fill="#efefef" stroke="#efefef" stroke-width="0.15" textLength="277.1" lengthAdjust="spacingAndGlyphs">Copper (as cupric sulphate)</text>
<text x="356.6" y="855.9" font-size="14.5" font-weight="normal" text-anchor="start" fill="#efefef" stroke="#efefef" stroke-width="0.15" textLength="35.4" lengthAdjust="spacingAndGlyphs">(mg)</text>
<text x="73.5" y="879.4" font-size="19.5" font-weight="normal" text-anchor="start" fill="#efefef" stroke="#efefef" stroke-width="0.15" textLength="342.1" lengthAdjust="spacingAndGlyphs">Magnesium (as Magnesium oxide)</text>
<text x="421.6" y="879.4" font-size="14.5" font-weight="normal" text-anchor="start" fill="#efefef" stroke="#efefef" stroke-width="0.15" textLength="33.0" lengthAdjust="spacingAndGlyphs">(mg)</text>
<text x="73.5" y="903.6" font-size="19.5" font-weight="normal" text-anchor="start" fill="#efefef" stroke="#efefef" stroke-width="0.15" textLength="394.1" lengthAdjust="spacingAndGlyphs">Phosphorous (as potassium phosphate)</text>
<text x="473.6" y="903.6" font-size="14.5" font-weight="normal" text-anchor="start" fill="#efefef" stroke="#efefef" stroke-width="0.15" textLength="35.6" lengthAdjust="spacingAndGlyphs">(mg)</text>
<text x="73.5" y="927.2" font-size="19.5" font-weight="normal" text-anchor="start" fill="#efefef" stroke="#efefef" stroke-width="0.15" textLength="223.5" lengthAdjust="spacingAndGlyphs">Zinc (as Zinc sulphate)</text>
<text x="303.0" y="927.2" font-size="14.5" font-weight="normal" text-anchor="start" fill="#efefef" stroke="#efefef" stroke-width="0.15" textLength="34.6" lengthAdjust="spacingAndGlyphs">(mg)</text>
<text x="73.5" y="950.8" font-size="19.5" font-weight="normal" text-anchor="start" fill="#efefef" stroke="#efefef" stroke-width="0.15" textLength="295.3" lengthAdjust="spacingAndGlyphs">Choline (as Choline bitartrate)</text>
<text x="374.8" y="950.8" font-size="14.5" font-weight="normal" text-anchor="start" fill="#efefef" stroke="#efefef" stroke-width="0.15" textLength="36.6" lengthAdjust="spacingAndGlyphs">(mg)</text>
<path d="M633.08,176.50 L633.08,162.90 L630.29,165.20" fill="none" stroke="#efefef" stroke-width="1.8" stroke-linejoin="round" stroke-linecap="butt"/>
<text x="635.6" y="176.5" font-size="20" font-weight="normal" text-anchor="start" fill="#efefef" stroke="#efefef" stroke-width="0.3" textLength="52.0" lengthAdjust="spacingAndGlyphs">29.28</text>
<text x="755.3" y="176.5" font-size="20" font-weight="normal" text-anchor="start" fill="#efefef" stroke="#efefef" stroke-width="0.3" textLength="62.0" lengthAdjust="spacingAndGlyphs">369.37</text>
<text x="866.3" y="176.5" font-size="20" font-weight="normal" text-anchor="start" fill="#efefef" stroke="#efefef" stroke-width="0.3" textLength="49.0" lengthAdjust="spacingAndGlyphs">6.46*</text>
<text x="632.8" y="199.0" font-size="20" font-weight="normal" text-anchor="start" fill="#efefef" stroke="#efefef" stroke-width="0.3" textLength="50.4" lengthAdjust="spacingAndGlyphs">24.82</text>
<text x="764.0" y="199.0" font-size="20" font-weight="normal" text-anchor="start" fill="#efefef" stroke="#efefef" stroke-width="0.3" textLength="38.8" lengthAdjust="spacingAndGlyphs">70.9</text>
<path d="M807.02,199.00 L807.02,185.40 L804.32,187.70" fill="none" stroke="#efefef" stroke-width="1.8" stroke-linejoin="round" stroke-linecap="butt"/>
<text x="865.2" y="199.0" font-size="20" font-weight="normal" text-anchor="start" fill="#efefef" stroke="#efefef" stroke-width="0.3" textLength="52.5" lengthAdjust="spacingAndGlyphs">45.96</text>
<text x="638.4" y="224.6" font-size="20" font-weight="normal" text-anchor="start" fill="#efefef" stroke="#efefef" stroke-width="0.3" textLength="39.2" lengthAdjust="spacingAndGlyphs">4.53</text>
<path d="M766.17,224.60 L766.17,211.00 L763.30,213.30" fill="none" stroke="#efefef" stroke-width="1.8" stroke-linejoin="round" stroke-linecap="butt"/>
<text x="768.7" y="224.6" font-size="20" font-weight="normal" text-anchor="start" fill="#efefef" stroke="#efefef" stroke-width="0.3" textLength="41.4" lengthAdjust="spacingAndGlyphs">2.94</text>
<text x="881.3" y="224.6" font-size="20" font-weight="normal" text-anchor="start" fill="#efefef" stroke="#efefef" stroke-width="0.3" textLength="20.0" lengthAdjust="spacingAndGlyphs">--</text>
<text x="638.0" y="247.1" font-size="20" font-weight="normal" text-anchor="start" fill="#efefef" stroke="#efefef" stroke-width="0.3" textLength="40.0" lengthAdjust="spacingAndGlyphs">0.58</text>
<path d="M772.84,247.10 L772.84,233.50 L769.81,235.80" fill="none" stroke="#efefef" stroke-width="1.8" stroke-linejoin="round" stroke-linecap="butt"/>
<text x="775.6" y="247.1" font-size="20" font-weight="normal" text-anchor="start" fill="#efefef" stroke="#efefef" stroke-width="0.3" textLength="30.9" lengthAdjust="spacingAndGlyphs">.66</text>
<text x="881.3" y="247.1" font-size="20" font-weight="normal" text-anchor="start" fill="#efefef" stroke="#efefef" stroke-width="0.3" textLength="20.0" lengthAdjust="spacingAndGlyphs">--</text>
<text x="638.0" y="265.7" font-size="20" font-weight="normal" text-anchor="start" fill="#efefef" stroke="#efefef" stroke-width="0.3" textLength="40.0" lengthAdjust="spacingAndGlyphs">0.00</text>
<text x="766.5" y="265.7" font-size="20" font-weight="normal" text-anchor="start" fill="#efefef" stroke="#efefef" stroke-width="0.3" textLength="40.0" lengthAdjust="spacingAndGlyphs">0.00</text>
<text x="872.5" y="265.7" font-size="20" font-weight="normal" text-anchor="start" fill="#efefef" stroke="#efefef" stroke-width="0.3" textLength="52.5" lengthAdjust="spacingAndGlyphs">0.00*</text>
<text x="638.0" y="288.1" font-size="20" font-weight="normal" text-anchor="start" fill="#efefef" stroke="#efefef" stroke-width="0.3" textLength="40.0" lengthAdjust="spacingAndGlyphs">0.34</text>
<text x="766.5" y="288.1" font-size="20" font-weight="normal" text-anchor="start" fill="#efefef" stroke="#efefef" stroke-width="0.3" textLength="40.0" lengthAdjust="spacingAndGlyphs">0.97</text>
<text x="871.0" y="288.1" font-size="20" font-weight="normal" text-anchor="start" fill="#efefef" stroke="#efefef" stroke-width="0.3" textLength="40.0" lengthAdjust="spacingAndGlyphs">0.85</text>
<path d="M645.01,312.70 L645.01,299.10 L642.28,301.40" fill="none" stroke="#efefef" stroke-width="1.8" stroke-linejoin="round" stroke-linecap="butt"/>
<text x="647.4" y="312.7" font-size="20" font-weight="normal" text-anchor="start" fill="#efefef" stroke="#efefef" stroke-width="0.3" textLength="27.8" lengthAdjust="spacingAndGlyphs">.32</text>
<text x="768.3" y="312.7" font-size="20" font-weight="normal" text-anchor="start" fill="#efefef" stroke="#efefef" stroke-width="0.3" textLength="36.0" lengthAdjust="spacingAndGlyphs">3.77</text>
<path d="M872.87,312.70 L872.87,299.10 L870.09,301.40" fill="none" stroke="#efefef" stroke-width="1.8" stroke-linejoin="round" stroke-linecap="butt"/>
<text x="875.4" y="312.7" font-size="20" font-weight="normal" text-anchor="start" fill="#efefef" stroke="#efefef" stroke-width="0.3" textLength="37.0" lengthAdjust="spacingAndGlyphs">.97*</text>
<text x="638.0" y="332.9" font-size="20" font-weight="normal" text-anchor="start" fill="#efefef" stroke="#efefef" stroke-width="0.3" textLength="40.0" lengthAdjust="spacingAndGlyphs">0.32</text>
<text x="769.1" y="332.9" font-size="20" font-weight="normal" text-anchor="start" fill="#efefef" stroke="#efefef" stroke-width="0.3" textLength="28.2" lengthAdjust="spacingAndGlyphs">0.9</text>
<path d="M801.77,332.90 L801.77,319.30 L799.01,321.60" fill="none" stroke="#efefef" stroke-width="1.8" stroke-linejoin="round" stroke-linecap="butt"/>
<path d="M872.87,332.90 L872.87,319.30 L870.09,321.60" fill="none" stroke="#efefef" stroke-width="1.8" stroke-linejoin="round" stroke-linecap="butt"/>
<text x="875.4" y="332.9" font-size="20" font-weight="normal" text-anchor="start" fill="#efefef" stroke="#efefef" stroke-width="0.3" textLength="37.0" lengthAdjust="spacingAndGlyphs">.45*</text>
<text x="638.0" y="355.3" font-size="20" font-weight="normal" text-anchor="start" fill="#efefef" stroke="#efefef" stroke-width="0.3" textLength="40.0" lengthAdjust="spacingAndGlyphs">0.08</text>
<text x="766.5" y="355.3" font-size="20" font-weight="normal" text-anchor="start" fill="#efefef" stroke="#efefef" stroke-width="0.3" textLength="38.5" lengthAdjust="spacingAndGlyphs">0.23</text>
<text x="873.3" y="355.3" font-size="20" font-weight="normal" text-anchor="start" fill="#efefef" stroke="#efefef" stroke-width="0.3" textLength="36.7" lengthAdjust="spacingAndGlyphs">4.0*</text>
<text x="631.7" y="378.0" font-size="20" font-weight="normal" text-anchor="start" fill="#efefef" stroke="#efefef" stroke-width="0.3" textLength="52.3" lengthAdjust="spacingAndGlyphs">60.00</text>
<path d="M764.16,378.00 L764.16,364.40 L761.52,366.70" fill="none" stroke="#efefef" stroke-width="1.8" stroke-linejoin="round" stroke-linecap="butt"/>
<text x="766.5" y="378.0" font-size="20" font-weight="normal" text-anchor="start" fill="#efefef" stroke="#efefef" stroke-width="0.3" textLength="11.1" lengthAdjust="spacingAndGlyphs">7</text>
<path d="M781.80,378.00 L781.80,364.40 L779.16,366.70" fill="none" stroke="#efefef" stroke-width="1.8" stroke-linejoin="round" stroke-linecap="butt"/>
<text x="784.2" y="378.0" font-size="20" font-weight="normal" text-anchor="start" fill="#efefef" stroke="#efefef" stroke-width="0.3" textLength="26.9" lengthAdjust="spacingAndGlyphs">.43</text>
<text x="867.3" y="378.0" font-size="20" font-weight="normal" text-anchor="start" fill="#efefef" stroke="#efefef" stroke-width="0.3" textLength="46.9" lengthAdjust="spacingAndGlyphs">3.00*</text>
<path d="M634.92,423.70 L634.92,410.10 L632.09,412.40" fill="none" stroke="#efefef" stroke-width="1.8" stroke-linejoin="round" stroke-linecap="butt"/>
<path d="M641.93,423.70 L641.93,410.10 L639.11,412.40" fill="none" stroke="#efefef" stroke-width="1.8" stroke-linejoin="round" stroke-linecap="butt"/>
<text x="644.5" y="423.7" font-size="20" font-weight="normal" text-anchor="start" fill="#efefef" stroke="#efefef" stroke-width="0.3" textLength="40.7" lengthAdjust="spacingAndGlyphs">5.50</text>
<text x="760.2" y="423.7" font-size="20" font-weight="normal" text-anchor="start" fill="#efefef" stroke="#efefef" stroke-width="0.3" textLength="51.8" lengthAdjust="spacingAndGlyphs">330.0</text>
<path d="M874.59,423.70 L874.59,410.10 L871.79,412.40" fill="none" stroke="#efefef" stroke-width="1.8" stroke-linejoin="round" stroke-linecap="butt"/>
<path d="M881.55,423.70 L881.55,410.10 L878.75,412.40" fill="none" stroke="#efefef" stroke-width="1.8" stroke-linejoin="round" stroke-linecap="butt"/>
<text x="884.1" y="423.7" font-size="20" font-weight="normal" text-anchor="start" fill="#efefef" stroke="#efefef" stroke-width="0.3" textLength="28.6" lengthAdjust="spacingAndGlyphs">.55</text>
<text x="626.5" y="447.7" font-size="20" font-weight="normal" text-anchor="start" fill="#efefef" stroke="#efefef" stroke-width="0.3" textLength="63.0" lengthAdjust="spacingAndGlyphs">384.62</text>
<path d="M756.39,447.70 L756.39,434.10 L753.50,436.40" fill="none" stroke="#efefef" stroke-width="1.8" stroke-linejoin="round" stroke-linecap="butt"/>
<text x="759.0" y="447.7" font-size="20" font-weight="normal" text-anchor="start" fill="#efefef" stroke="#efefef" stroke-width="0.3" textLength="53.8" lengthAdjust="spacingAndGlyphs">098.9</text>
<path d="M817.40,447.70 L817.40,434.10 L814.51,436.40" fill="none" stroke="#efefef" stroke-width="1.8" stroke-linejoin="round" stroke-linecap="butt"/>
<text x="881.3" y="447.7" font-size="20" font-weight="normal" text-anchor="start" fill="#efefef" stroke="#efefef" stroke-width="0.3" textLength="20.0" lengthAdjust="spacingAndGlyphs">--</text>
<text x="638.0" y="471.2" font-size="20" font-weight="normal" text-anchor="start" fill="#efefef" stroke="#efefef" stroke-width="0.3" textLength="40.0" lengthAdjust="spacingAndGlyphs">0.69</text>
<path d="M773.11,471.20 L773.11,457.60 L770.29,459.90" fill="none" stroke="#efefef" stroke-width="1.8" stroke-linejoin="round" stroke-linecap="butt"/>
<text x="775.6" y="471.2" font-size="20" font-weight="normal" text-anchor="start" fill="#efefef" stroke="#efefef" stroke-width="0.3" textLength="28.7" lengthAdjust="spacingAndGlyphs">.97</text>
<text x="866.3" y="471.2" font-size="20" font-weight="normal" text-anchor="start" fill="#efefef" stroke="#efefef" stroke-width="0.3" textLength="50.7" lengthAdjust="spacingAndGlyphs">38.34</text>
<text x="638.0" y="496.0" font-size="20" font-weight="normal" text-anchor="start" fill="#efefef" stroke="#efefef" stroke-width="0.3" textLength="40.0" lengthAdjust="spacingAndGlyphs">0.96</text>
<text x="767.0" y="496.0" font-size="20" font-weight="normal" text-anchor="start" fill="#efefef" stroke="#efefef" stroke-width="0.3" textLength="38.0" lengthAdjust="spacingAndGlyphs">2.74</text>
<text x="871.5" y="496.0" font-size="20" font-weight="normal" text-anchor="start" fill="#efefef" stroke="#efefef" stroke-width="0.3" textLength="40.3" lengthAdjust="spacingAndGlyphs">38.4</text>
<text x="638.0" y="519.2" font-size="20" font-weight="normal" text-anchor="start" fill="#efefef" stroke="#efefef" stroke-width="0.3" textLength="40.0" lengthAdjust="spacingAndGlyphs">0.92</text>
<text x="767.0" y="519.2" font-size="20" font-weight="normal" text-anchor="start" fill="#efefef" stroke="#efefef" stroke-width="0.3" textLength="38.0" lengthAdjust="spacingAndGlyphs">2.63</text>
<text x="866.3" y="519.2" font-size="20" font-weight="normal" text-anchor="start" fill="#efefef" stroke="#efefef" stroke-width="0.3" textLength="50.7" lengthAdjust="spacingAndGlyphs">38.34</text>
<text x="633.0" y="543.2" font-size="20" font-weight="normal" text-anchor="start" fill="#efefef" stroke="#efefef" stroke-width="0.3" textLength="50.0" lengthAdjust="spacingAndGlyphs">30.77</text>
<text x="763.7" y="543.2" font-size="20" font-weight="normal" text-anchor="start" fill="#efefef" stroke="#efefef" stroke-width="0.3" textLength="39.0" lengthAdjust="spacingAndGlyphs">87.9</text>
<path d="M807.01,543.20 L807.01,529.60 L804.30,531.90" fill="none" stroke="#efefef" stroke-width="1.8" stroke-linejoin="round" stroke-linecap="butt"/>
<text x="866.3" y="543.2" font-size="20" font-weight="normal" text-anchor="start" fill="#efefef" stroke="#efefef" stroke-width="0.3" textLength="50.7" lengthAdjust="spacingAndGlyphs">38.46</text>
<path d="M637.39,571.20 L637.39,557.60 L634.50,559.90" fill="none" stroke="#efefef" stroke-width="1.8" stroke-linejoin="round" stroke-linecap="butt"/>
<text x="640.0" y="571.2" font-size="20" font-weight="normal" text-anchor="start" fill="#efefef" stroke="#efefef" stroke-width="0.3" textLength="41.7" lengthAdjust="spacingAndGlyphs">5.38</text>
<text x="759.5" y="571.2" font-size="20" font-weight="normal" text-anchor="start" fill="#efefef" stroke="#efefef" stroke-width="0.3" textLength="52.5" lengthAdjust="spacingAndGlyphs">43.94</text>
<text x="866.3" y="571.2" font-size="20" font-weight="normal" text-anchor="start" fill="#efefef" stroke="#efefef" stroke-width="0.3" textLength="50.7" lengthAdjust="spacingAndGlyphs">38.45</text>
<path d="M635.86,591.00 L635.86,577.40 L633.09,579.70" fill="none" stroke="#efefef" stroke-width="1.8" stroke-linejoin="round" stroke-linecap="butt"/>
<path d="M642.74,591.00 L642.74,577.40 L639.97,579.70" fill="none" stroke="#efefef" stroke-width="1.8" stroke-linejoin="round" stroke-linecap="butt"/>
<text x="645.2" y="591.0" font-size="20" font-weight="normal" text-anchor="start" fill="#efefef" stroke="#efefef" stroke-width="0.3" textLength="39.9" lengthAdjust="spacingAndGlyphs">5.38</text>
<text x="754.2" y="591.0" font-size="20" font-weight="normal" text-anchor="start" fill="#efefef" stroke="#efefef" stroke-width="0.3" textLength="64.0" lengthAdjust="spacingAndGlyphs">329.66</text>
<text x="866.3" y="591.0" font-size="20" font-weight="normal" text-anchor="start" fill="#efefef" stroke="#efefef" stroke-width="0.3" textLength="50.7" lengthAdjust="spacingAndGlyphs">65.38</text>
<text x="638.0" y="614.3" font-size="20" font-weight="normal" text-anchor="start" fill="#efefef" stroke="#efefef" stroke-width="0.3" textLength="40.0" lengthAdjust="spacingAndGlyphs">6.92</text>
<path d="M767.00,614.30 L767.00,600.70 L764.28,603.00" fill="none" stroke="#efefef" stroke-width="1.8" stroke-linejoin="round" stroke-linecap="butt"/>
<text x="769.4" y="614.3" font-size="20" font-weight="normal" text-anchor="start" fill="#efefef" stroke="#efefef" stroke-width="0.3" textLength="39.2" lengthAdjust="spacingAndGlyphs">9.77</text>
<text x="866.3" y="614.3" font-size="20" font-weight="normal" text-anchor="start" fill="#efefef" stroke="#efefef" stroke-width="0.3" textLength="50.7" lengthAdjust="spacingAndGlyphs">38.44</text>
<path d="M645.01,643.50 L645.01,629.90 L642.28,632.20" fill="none" stroke="#efefef" stroke-width="1.8" stroke-linejoin="round" stroke-linecap="butt"/>
<text x="647.4" y="643.5" font-size="20" font-weight="normal" text-anchor="start" fill="#efefef" stroke="#efefef" stroke-width="0.3" textLength="27.8" lengthAdjust="spacingAndGlyphs">.92</text>
<text x="767.0" y="639.5" font-size="20" font-weight="normal" text-anchor="start" fill="#efefef" stroke="#efefef" stroke-width="0.3" textLength="38.0" lengthAdjust="spacingAndGlyphs">5.49</text>
<text x="871.5" y="639.5" font-size="20" font-weight="normal" text-anchor="start" fill="#efefef" stroke="#efefef" stroke-width="0.3" textLength="40.3" lengthAdjust="spacingAndGlyphs">38.4</text>
<text x="638.0" y="663.0" font-size="20" font-weight="normal" text-anchor="start" fill="#efefef" stroke="#efefef" stroke-width="0.3" textLength="40.0" lengthAdjust="spacingAndGlyphs">0.85</text>
<text x="767.0" y="663.0" font-size="20" font-weight="normal" text-anchor="start" fill="#efefef" stroke="#efefef" stroke-width="0.3" textLength="38.0" lengthAdjust="spacingAndGlyphs">2.43</text>
<text x="866.3" y="663.0" font-size="20" font-weight="normal" text-anchor="start" fill="#efefef" stroke="#efefef" stroke-width="0.3" textLength="50.7" lengthAdjust="spacingAndGlyphs">38.63</text>
<text x="628.2" y="686.6" font-size="20" font-weight="normal" text-anchor="start" fill="#efefef" stroke="#efefef" stroke-width="0.3" textLength="59.5" lengthAdjust="spacingAndGlyphs">230.77</text>
<text x="754.2" y="686.6" font-size="20" font-weight="normal" text-anchor="start" fill="#efefef" stroke="#efefef" stroke-width="0.3" textLength="64.0" lengthAdjust="spacingAndGlyphs">659.34</text>
<text x="866.3" y="686.6" font-size="20" font-weight="normal" text-anchor="start" fill="#efefef" stroke="#efefef" stroke-width="0.3" textLength="50.7" lengthAdjust="spacingAndGlyphs">38.46</text>
<text x="638.0" y="710.6" font-size="20" font-weight="normal" text-anchor="start" fill="#efefef" stroke="#efefef" stroke-width="0.3" textLength="40.0" lengthAdjust="spacingAndGlyphs">3.85</text>
<path d="M768.95,710.60 L768.95,697.00 L766.09,699.30" fill="none" stroke="#efefef" stroke-width="1.8" stroke-linejoin="round" stroke-linecap="butt"/>
<path d="M776.03,710.60 L776.03,697.00 L773.17,699.30" fill="none" stroke="#efefef" stroke-width="1.8" stroke-linejoin="round" stroke-linecap="butt"/>
<text x="778.6" y="710.6" font-size="20" font-weight="normal" text-anchor="start" fill="#efefef" stroke="#efefef" stroke-width="0.3" textLength="29.1" lengthAdjust="spacingAndGlyphs">.00</text>
<text x="871.5" y="710.6" font-size="20" font-weight="normal" text-anchor="start" fill="#efefef" stroke="#efefef" stroke-width="0.3" textLength="40.3" lengthAdjust="spacingAndGlyphs">38.5</text>
<text x="638.0" y="735.2" font-size="20" font-weight="normal" text-anchor="start" fill="#efefef" stroke="#efefef" stroke-width="0.3" textLength="40.0" lengthAdjust="spacingAndGlyphs">2.62</text>
<text x="767.0" y="735.2" font-size="20" font-weight="normal" text-anchor="start" fill="#efefef" stroke="#efefef" stroke-width="0.3" textLength="38.0" lengthAdjust="spacingAndGlyphs">7.49</text>
<text x="871.0" y="735.2" font-size="20" font-weight="normal" text-anchor="start" fill="#efefef" stroke="#efefef" stroke-width="0.3" textLength="40.0" lengthAdjust="spacingAndGlyphs">5.82</text>
<path d="M637.39,759.40 L637.39,745.80 L634.50,748.10" fill="none" stroke="#efefef" stroke-width="1.8" stroke-linejoin="round" stroke-linecap="butt"/>
<text x="640.0" y="759.4" font-size="20" font-weight="normal" text-anchor="start" fill="#efefef" stroke="#efefef" stroke-width="0.3" textLength="41.7" lengthAdjust="spacingAndGlyphs">5.38</text>
<text x="759.5" y="759.4" font-size="20" font-weight="normal" text-anchor="start" fill="#efefef" stroke="#efefef" stroke-width="0.3" textLength="52.5" lengthAdjust="spacingAndGlyphs">43.94</text>
<text x="866.3" y="759.4" font-size="20" font-weight="normal" text-anchor="start" fill="#efefef" stroke="#efefef" stroke-width="0.3" textLength="50.7" lengthAdjust="spacingAndGlyphs">38.45</text>
<path d="M637.39,783.00 L637.39,769.40 L634.50,771.70" fill="none" stroke="#efefef" stroke-width="1.8" stroke-linejoin="round" stroke-linecap="butt"/>
<text x="640.0" y="783.0" font-size="20" font-weight="normal" text-anchor="start" fill="#efefef" stroke="#efefef" stroke-width="0.3" textLength="41.7" lengthAdjust="spacingAndGlyphs">9.23</text>
<text x="759.5" y="783.0" font-size="20" font-weight="normal" text-anchor="start" fill="#efefef" stroke="#efefef" stroke-width="0.3" textLength="52.5" lengthAdjust="spacingAndGlyphs">54.94</text>
<text x="866.3" y="783.0" font-size="20" font-weight="normal" text-anchor="start" fill="#efefef" stroke="#efefef" stroke-width="0.3" textLength="50.7" lengthAdjust="spacingAndGlyphs">38.46</text>
<text x="638.0" y="807.2" font-size="20" font-weight="normal" text-anchor="start" fill="#efefef" stroke="#efefef" stroke-width="0.3" textLength="40.0" lengthAdjust="spacingAndGlyphs">0.77</text>
<text x="767.0" y="807.2" font-size="20" font-weight="normal" text-anchor="start" fill="#efefef" stroke="#efefef" stroke-width="0.3" textLength="38.0" lengthAdjust="spacingAndGlyphs">2.20</text>
<path d="M871.08,807.20 L871.08,793.60 L868.29,795.90" fill="none" stroke="#efefef" stroke-width="1.8" stroke-linejoin="round" stroke-linecap="butt"/>
<text x="873.6" y="807.2" font-size="20" font-weight="normal" text-anchor="start" fill="#efefef" stroke="#efefef" stroke-width="0.3" textLength="40.3" lengthAdjust="spacingAndGlyphs">9.25</text>
<text x="633.0" y="830.8" font-size="20" font-weight="normal" text-anchor="start" fill="#efefef" stroke="#efefef" stroke-width="0.3" textLength="50.0" lengthAdjust="spacingAndGlyphs">27.69</text>
<text x="766.7" y="830.8" font-size="20" font-weight="normal" text-anchor="start" fill="#efefef" stroke="#efefef" stroke-width="0.3" textLength="27.1" lengthAdjust="spacingAndGlyphs">79.</text>
<path d="M797.95,830.80 L797.95,817.20 L795.30,819.50" fill="none" stroke="#efefef" stroke-width="1.8" stroke-linejoin="round" stroke-linecap="butt"/>
<path d="M804.54,830.80 L804.54,817.20 L801.88,819.50" fill="none" stroke="#efefef" stroke-width="1.8" stroke-linejoin="round" stroke-linecap="butt"/>
<text x="871.0" y="830.8" font-size="20" font-weight="normal" text-anchor="start" fill="#efefef" stroke="#efefef" stroke-width="0.3" textLength="40.0" lengthAdjust="spacingAndGlyphs">2.76</text>
<text x="638.0" y="855.2" font-size="20" font-weight="normal" text-anchor="start" fill="#efefef" stroke="#efefef" stroke-width="0.3" textLength="40.0" lengthAdjust="spacingAndGlyphs">0.65</text>
<path d="M774.01,855.20 L774.01,841.60 L771.28,843.90" fill="none" stroke="#efefef" stroke-width="1.8" stroke-linejoin="round" stroke-linecap="butt"/>
<text x="776.5" y="855.2" font-size="20" font-weight="normal" text-anchor="start" fill="#efefef" stroke="#efefef" stroke-width="0.3" textLength="27.9" lengthAdjust="spacingAndGlyphs">.86</text>
<text x="866.3" y="855.2" font-size="20" font-weight="normal" text-anchor="start" fill="#efefef" stroke="#efefef" stroke-width="0.3" textLength="50.7" lengthAdjust="spacingAndGlyphs">38.23</text>
<text x="647.0" y="878.8" font-size="20" font-weight="normal" text-anchor="start" fill="#efefef" stroke="#efefef" stroke-width="0.3" textLength="22.0" lengthAdjust="spacingAndGlyphs">20</text>
<text x="764.2" y="878.8" font-size="20" font-weight="normal" text-anchor="start" fill="#efefef" stroke="#efefef" stroke-width="0.3" textLength="27.0" lengthAdjust="spacingAndGlyphs">57.</text>
<path d="M795.34,878.80 L795.34,865.20 L792.69,867.50" fill="none" stroke="#efefef" stroke-width="1.8" stroke-linejoin="round" stroke-linecap="butt"/>
<text x="797.7" y="878.8" font-size="20" font-weight="normal" text-anchor="start" fill="#efefef" stroke="#efefef" stroke-width="0.3" textLength="11.1" lengthAdjust="spacingAndGlyphs">4</text>
<text x="871.0" y="878.8" font-size="20" font-weight="normal" text-anchor="start" fill="#efefef" stroke="#efefef" stroke-width="0.3" textLength="40.0" lengthAdjust="spacingAndGlyphs">4.54</text>
<text x="633.0" y="902.4" font-size="20" font-weight="normal" text-anchor="start" fill="#efefef" stroke="#efefef" stroke-width="0.3" textLength="50.0" lengthAdjust="spacingAndGlyphs">27.69</text>
<text x="766.7" y="902.4" font-size="20" font-weight="normal" text-anchor="start" fill="#efefef" stroke="#efefef" stroke-width="0.3" textLength="27.1" lengthAdjust="spacingAndGlyphs">79.</text>
<path d="M797.95,902.40 L797.95,888.80 L795.30,891.10" fill="none" stroke="#efefef" stroke-width="1.8" stroke-linejoin="round" stroke-linecap="butt"/>
<path d="M804.54,902.40 L804.54,888.80 L801.88,891.10" fill="none" stroke="#efefef" stroke-width="1.8" stroke-linejoin="round" stroke-linecap="butt"/>
<text x="871.0" y="902.4" font-size="20" font-weight="normal" text-anchor="start" fill="#efefef" stroke="#efefef" stroke-width="0.3" textLength="40.0" lengthAdjust="spacingAndGlyphs">2.76</text>
<text x="638.0" y="926.6" font-size="20" font-weight="normal" text-anchor="start" fill="#efefef" stroke="#efefef" stroke-width="0.3" textLength="40.0" lengthAdjust="spacingAndGlyphs">6.54</text>
<path d="M767.08,926.60 L767.08,913.00 L764.29,915.30" fill="none" stroke="#efefef" stroke-width="1.8" stroke-linejoin="round" stroke-linecap="butt"/>
<text x="769.6" y="926.6" font-size="20" font-weight="normal" text-anchor="start" fill="#efefef" stroke="#efefef" stroke-width="0.3" textLength="40.3" lengthAdjust="spacingAndGlyphs">8.69</text>
<text x="866.3" y="926.6" font-size="20" font-weight="normal" text-anchor="start" fill="#efefef" stroke="#efefef" stroke-width="0.3" textLength="50.7" lengthAdjust="spacingAndGlyphs">38.47</text>
<path d="M637.39,950.10 L637.39,936.50 L634.50,938.80" fill="none" stroke="#efefef" stroke-width="1.8" stroke-linejoin="round" stroke-linecap="butt"/>
<text x="640.0" y="950.1" font-size="20" font-weight="normal" text-anchor="start" fill="#efefef" stroke="#efefef" stroke-width="0.3" textLength="41.7" lengthAdjust="spacingAndGlyphs">9.23</text>
<text x="759.5" y="950.1" font-size="20" font-weight="normal" text-anchor="start" fill="#efefef" stroke="#efefef" stroke-width="0.3" textLength="52.5" lengthAdjust="spacingAndGlyphs">54.94</text>
<text x="881.3" y="950.1" font-size="20" font-weight="normal" text-anchor="start" fill="#efefef" stroke="#efefef" stroke-width="0.3" textLength="20.0" lengthAdjust="spacingAndGlyphs">--</text>
<rect x="0" y="0" width="1000" height="1.2" fill="#46464a"/>
</svg></body></html>
